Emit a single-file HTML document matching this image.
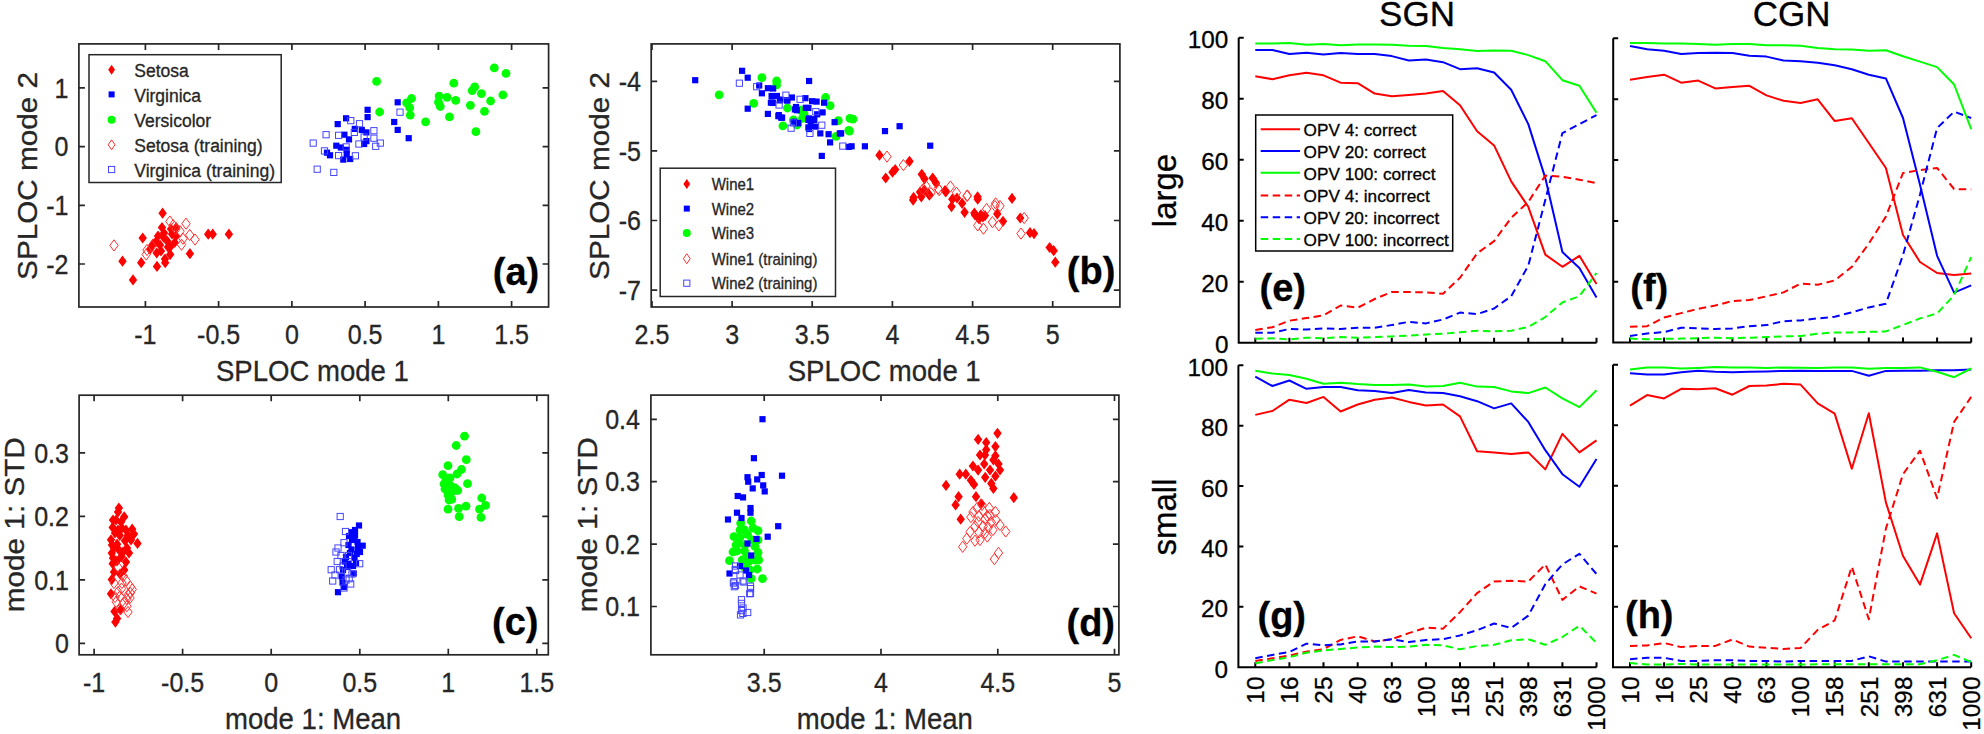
<!DOCTYPE html><html><head><meta charset="utf-8"><style>html,body{margin:0;padding:0;background:#fff;}svg{display:block;} text{font-family:'Liberation Sans', Arial, Helvetica, sans-serif;}</style></head><body>
<svg width="1984" height="734" viewBox="0 0 1984 734">
<rect width="1984" height="734" fill="#fff"/>
<rect x="78.9" y="43.9" width="469.7" height="263.1" fill="none" stroke="#262626" stroke-width="1.7"/>
<path d="M145.4,307v-6.0M145.4,43.9v6.0M218.6,307v-6.0M218.6,43.9v6.0M291.9,307v-6.0M291.9,43.9v6.0M365.1,307v-6.0M365.1,43.9v6.0M438.4,307v-6.0M438.4,43.9v6.0M511.6,307v-6.0M511.6,43.9v6.0M78.9,264h6.0M548.6,264h-6.0M78.9,205.3h6.0M548.6,205.3h-6.0M78.9,146.6h6.0M548.6,146.6h-6.0M78.9,87.9h6.0M548.6,87.9h-6.0" stroke="#262626" stroke-width="1.7" fill="none"/>
<text transform="translate(145.4,343.6) scale(0.963,1.04)" font-size="26" text-anchor="middle" fill="#262626" stroke="#262626" stroke-width="0.3" font-weight="normal" >-1</text>
<text transform="translate(218.6,343.6) scale(0.963,1.04)" font-size="26" text-anchor="middle" fill="#262626" stroke="#262626" stroke-width="0.3" font-weight="normal" >-0.5</text>
<text transform="translate(291.9,343.6) scale(0.963,1.04)" font-size="26" text-anchor="middle" fill="#262626" stroke="#262626" stroke-width="0.3" font-weight="normal" >0</text>
<text transform="translate(365.1,343.6) scale(0.963,1.04)" font-size="26" text-anchor="middle" fill="#262626" stroke="#262626" stroke-width="0.3" font-weight="normal" >0.5</text>
<text transform="translate(438.4,343.6) scale(0.963,1.04)" font-size="26" text-anchor="middle" fill="#262626" stroke="#262626" stroke-width="0.3" font-weight="normal" >1</text>
<text transform="translate(511.6,343.6) scale(0.963,1.04)" font-size="26" text-anchor="middle" fill="#262626" stroke="#262626" stroke-width="0.3" font-weight="normal" >1.5</text>
<text transform="translate(68.5,273.6) scale(0.963,1.04)" font-size="26" text-anchor="end" fill="#262626" stroke="#262626" stroke-width="0.3" font-weight="normal" >-2</text>
<text transform="translate(68.5,214.9) scale(0.963,1.04)" font-size="26" text-anchor="end" fill="#262626" stroke="#262626" stroke-width="0.3" font-weight="normal" >-1</text>
<text transform="translate(68.5,156.2) scale(0.963,1.04)" font-size="26" text-anchor="end" fill="#262626" stroke="#262626" stroke-width="0.3" font-weight="normal" >0</text>
<text transform="translate(68.5,97.5) scale(0.963,1.04)" font-size="26" text-anchor="end" fill="#262626" stroke="#262626" stroke-width="0.3" font-weight="normal" >1</text>
<text transform="translate(312.4,381.2) scale(0.967,1.03)" font-size="28.5" text-anchor="middle" fill="#262626" stroke="#262626" stroke-width="0.3" font-weight="normal" >SPLOC mode 1</text>
<text transform="translate(36.5,175.9) scale(0.97,1.043) rotate(-90)" font-size="28.5" text-anchor="middle" fill="#262626" stroke="#262626" stroke-width="0.3" dy="0.0">SPLOC mode 2</text>
<polygon points="162.6,207.6 166.8,213.2 162.6,218.8 158.4,213.2" fill="#ff0000"/>
<polygon points="142.7,232.4 146.9,238 142.7,243.6 138.5,238" fill="#ff0000"/>
<polygon points="122.5,255.6 126.7,261.2 122.5,266.8 118.3,261.2" fill="#ff0000"/>
<polygon points="133,274.3 137.2,279.9 133,285.5 128.8,279.9" fill="#ff0000"/>
<polygon points="141.2,257.1 145.4,262.7 141.2,268.3 137,262.7" fill="#ff0000"/>
<polygon points="157,260.8 161.2,266.4 157,272 152.8,266.4" fill="#ff0000"/>
<polygon points="165.2,257.1 169.4,262.7 165.2,268.3 161,262.7" fill="#ff0000"/>
<polygon points="189.9,248.1 194.1,253.7 189.9,259.3 185.7,253.7" fill="#ff0000"/>
<polygon points="208.2,228.6 212.4,234.2 208.2,239.8 204,234.2" fill="#ff0000"/>
<polygon points="212.7,228.6 216.9,234.2 212.7,239.8 208.5,234.2" fill="#ff0000"/>
<polygon points="228.9,228.6 233.1,234.2 228.9,239.8 224.7,234.2" fill="#ff0000"/>
<polygon points="162,221.9 166.2,227.5 162,233.1 157.8,227.5" fill="#ff0000"/>
<polygon points="163.5,231.6 167.7,237.2 163.5,242.8 159.3,237.2" fill="#ff0000"/>
<polygon points="156,236.1 160.2,241.7 156,247.3 151.8,241.7" fill="#ff0000"/>
<polygon points="167.2,235.4 171.4,241 167.2,246.6 163,241" fill="#ff0000"/>
<polygon points="174.7,236.9 178.9,242.5 174.7,248.1 170.5,242.5" fill="#ff0000"/>
<polygon points="176.2,221.9 180.4,227.5 176.2,233.1 172,227.5" fill="#ff0000"/>
<polygon points="150,243.6 154.2,249.2 150,254.8 145.8,249.2" fill="#ff0000"/>
<polygon points="156.7,247.4 160.9,253 156.7,258.6 152.5,253" fill="#ff0000"/>
<polygon points="170.2,248.9 174.4,254.5 170.2,260.1 166,254.5" fill="#ff0000"/>
<polygon points="170.2,241.4 174.4,247 170.2,252.6 166,247" fill="#ff0000"/>
<polygon points="165,253.4 169.2,259 165,264.6 160.8,259" fill="#ff0000"/>
<polygon points="160,239.4 164.2,245 160,250.6 155.8,245" fill="#ff0000"/>
<polygon points="172,228.4 176.2,234 172,239.6 167.8,234" fill="#ff0000"/>
<polygon points="158,230.4 162.2,236 158,241.6 153.8,236" fill="#ff0000"/>
<polygon points="164,227.4 168.2,233 164,238.6 159.8,233" fill="#ff0000"/>
<polygon points="168,241.4 172.2,247 168,252.6 163.8,247" fill="#ff0000"/>
<polygon points="153,238.4 157.2,244 153,249.6 148.8,244" fill="#ff0000"/>
<polygon points="161,245.4 165.2,251 161,256.6 156.8,251" fill="#ff0000"/>
<polygon points="176,230.4 180.2,236 176,241.6 171.8,236" fill="#ff0000"/>
<polygon points="171,223.4 175.2,229 171,234.6 166.8,229" fill="#ff0000"/>
<rect x="364.5" y="106.7" width="6.2" height="6.2" fill="#0000ff"/>
<rect x="364.5" y="114" width="6.2" height="6.2" fill="#0000ff"/>
<rect x="343" y="115.2" width="6.2" height="6.2" fill="#0000ff"/>
<rect x="334.6" y="121" width="6.2" height="6.2" fill="#0000ff"/>
<rect x="351.7" y="125.8" width="6.2" height="6.2" fill="#0000ff"/>
<rect x="358.7" y="126.8" width="6.2" height="6.2" fill="#0000ff"/>
<rect x="363.3" y="129.3" width="6.2" height="6.2" fill="#0000ff"/>
<rect x="341.3" y="131.6" width="6.2" height="6.2" fill="#0000ff"/>
<rect x="345.9" y="136.3" width="6.2" height="6.2" fill="#0000ff"/>
<rect x="363.3" y="138" width="6.2" height="6.2" fill="#0000ff"/>
<rect x="361" y="140.9" width="6.2" height="6.2" fill="#0000ff"/>
<rect x="333.2" y="142.6" width="6.2" height="6.2" fill="#0000ff"/>
<rect x="337.8" y="144.4" width="6.2" height="6.2" fill="#0000ff"/>
<rect x="343.6" y="146.7" width="6.2" height="6.2" fill="#0000ff"/>
<rect x="323.9" y="149.6" width="6.2" height="6.2" fill="#0000ff"/>
<rect x="326.9" y="152.2" width="6.2" height="6.2" fill="#0000ff"/>
<rect x="340.2" y="156.5" width="6.2" height="6.2" fill="#0000ff"/>
<rect x="347.1" y="155.9" width="6.2" height="6.2" fill="#0000ff"/>
<rect x="343.6" y="151.3" width="6.2" height="6.2" fill="#0000ff"/>
<rect x="391.1" y="118.9" width="6.2" height="6.2" fill="#0000ff"/>
<rect x="394.6" y="126.8" width="6.2" height="6.2" fill="#0000ff"/>
<rect x="405.6" y="135.1" width="6.2" height="6.2" fill="#0000ff"/>
<rect x="394.6" y="99.2" width="6.2" height="6.2" fill="#0000ff"/>
<circle cx="376.6" cy="81.4" r="4.4" fill="#00ff00"/>
<circle cx="379.6" cy="112" r="4.4" fill="#00ff00"/>
<circle cx="411.5" cy="98.5" r="4.4" fill="#00ff00"/>
<circle cx="406.6" cy="102.8" r="4.4" fill="#00ff00"/>
<circle cx="409.7" cy="107.7" r="4.4" fill="#00ff00"/>
<circle cx="410.3" cy="115.1" r="4.4" fill="#00ff00"/>
<circle cx="425.6" cy="121.8" r="4.4" fill="#00ff00"/>
<circle cx="439.1" cy="96.1" r="4.4" fill="#00ff00"/>
<circle cx="438.5" cy="102.2" r="4.4" fill="#00ff00"/>
<circle cx="440.3" cy="106.5" r="4.4" fill="#00ff00"/>
<circle cx="447.1" cy="97.3" r="4.4" fill="#00ff00"/>
<circle cx="455.7" cy="100.4" r="4.4" fill="#00ff00"/>
<circle cx="453.8" cy="83.2" r="4.4" fill="#00ff00"/>
<circle cx="449.5" cy="116.9" r="4.4" fill="#00ff00"/>
<circle cx="474.7" cy="86.9" r="4.4" fill="#00ff00"/>
<circle cx="472.2" cy="90.6" r="4.4" fill="#00ff00"/>
<circle cx="481.4" cy="93.6" r="4.4" fill="#00ff00"/>
<circle cx="470.4" cy="105.3" r="4.4" fill="#00ff00"/>
<circle cx="490.6" cy="101" r="4.4" fill="#00ff00"/>
<circle cx="484.5" cy="111.4" r="4.4" fill="#00ff00"/>
<circle cx="475.9" cy="131.7" r="4.4" fill="#00ff00"/>
<circle cx="494.3" cy="67.9" r="4.4" fill="#00ff00"/>
<circle cx="506" cy="73.4" r="4.4" fill="#00ff00"/>
<circle cx="502.9" cy="94.9" r="4.4" fill="#00ff00"/>
<polygon points="114,239.8 118.2,245.4 114,251 109.8,245.4" fill="none" stroke="#ff3030" stroke-width="1"/>
<polygon points="169.9,215.9 174.1,221.5 169.9,227.1 165.7,221.5" fill="none" stroke="#ff3030" stroke-width="1"/>
<polygon points="173.2,219.6 177.4,225.2 173.2,230.8 169,225.2" fill="none" stroke="#ff3030" stroke-width="1"/>
<polygon points="186,218.1 190.2,223.7 186,229.3 181.8,223.7" fill="none" stroke="#ff3030" stroke-width="1"/>
<polygon points="180,225.6 184.2,231.2 180,236.8 175.8,231.2" fill="none" stroke="#ff3030" stroke-width="1"/>
<polygon points="183,233.1 187.2,238.7 183,244.3 178.8,238.7" fill="none" stroke="#ff3030" stroke-width="1"/>
<polygon points="189.7,229.4 193.9,235 189.7,240.6 185.5,235" fill="none" stroke="#ff3030" stroke-width="1"/>
<polygon points="195,233.9 199.2,239.5 195,245.1 190.8,239.5" fill="none" stroke="#ff3030" stroke-width="1"/>
<polygon points="181.5,239.1 185.7,244.7 181.5,250.3 177.3,244.7" fill="none" stroke="#ff3030" stroke-width="1"/>
<polygon points="147,244.4 151.2,250 147,255.6 142.8,250" fill="none" stroke="#ff3030" stroke-width="1"/>
<polygon points="146.2,248.9 150.4,254.5 146.2,260.1 142,254.5" fill="none" stroke="#ff3030" stroke-width="1"/>
<polygon points="176,223.4 180.2,229 176,234.6 171.8,229" fill="none" stroke="#ff3030" stroke-width="1"/>
<polygon points="152,240.4 156.2,246 152,251.6 147.8,246" fill="none" stroke="#ff3030" stroke-width="1"/>
<rect x="310.1" y="140" width="6.2" height="6.2" fill="none" stroke="#4545ff" stroke-width="1"/>
<rect x="323" y="131.6" width="6.2" height="6.2" fill="none" stroke="#4545ff" stroke-width="1"/>
<rect x="347.7" y="117.5" width="6.2" height="6.2" fill="none" stroke="#4545ff" stroke-width="1"/>
<rect x="356.4" y="120.6" width="6.2" height="6.2" fill="none" stroke="#4545ff" stroke-width="1"/>
<rect x="335.5" y="132.2" width="6.2" height="6.2" fill="none" stroke="#4545ff" stroke-width="1"/>
<rect x="351.2" y="129.3" width="6.2" height="6.2" fill="none" stroke="#4545ff" stroke-width="1"/>
<rect x="370.8" y="127.6" width="6.2" height="6.2" fill="none" stroke="#4545ff" stroke-width="1"/>
<rect x="370.8" y="135.1" width="6.2" height="6.2" fill="none" stroke="#4545ff" stroke-width="1"/>
<rect x="377.2" y="140" width="6.2" height="6.2" fill="none" stroke="#4545ff" stroke-width="1"/>
<rect x="372.6" y="143.2" width="6.2" height="6.2" fill="none" stroke="#4545ff" stroke-width="1"/>
<rect x="355.8" y="140.9" width="6.2" height="6.2" fill="none" stroke="#4545ff" stroke-width="1"/>
<rect x="343" y="143.8" width="6.2" height="6.2" fill="none" stroke="#4545ff" stroke-width="1"/>
<rect x="321.4" y="147.8" width="6.2" height="6.2" fill="none" stroke="#4545ff" stroke-width="1"/>
<rect x="335.5" y="152.5" width="6.2" height="6.2" fill="none" stroke="#4545ff" stroke-width="1"/>
<rect x="352.3" y="152.7" width="6.2" height="6.2" fill="none" stroke="#4545ff" stroke-width="1"/>
<rect x="314.1" y="166.1" width="6.2" height="6.2" fill="none" stroke="#4545ff" stroke-width="1"/>
<rect x="330.7" y="169.3" width="6.2" height="6.2" fill="none" stroke="#4545ff" stroke-width="1"/>
<rect x="396.9" y="109.1" width="6.2" height="6.2" fill="none" stroke="#4545ff" stroke-width="1"/>
<rect x="361" y="133.9" width="6.2" height="6.2" fill="none" stroke="#4545ff" stroke-width="1"/>
<rect x="89" y="54.7" width="192.2" height="127.8" fill="#fff" stroke="#262626" stroke-width="1.5"/>
<polygon points="111.6,64.7 115,69.7 111.6,74.7 108.2,69.7" fill="#ff0000"/>
<rect x="108.6" y="91.4" width="6" height="6" fill="#0000ff"/>
<circle cx="111.6" cy="119.7" r="4" fill="#00ff00"/>
<polygon points="111.6,139.8 115,144.8 111.6,149.8 108.2,144.8" fill="none" stroke="#ff3030" stroke-width="1"/>
<rect x="108.5" y="166.4" width="6.2" height="6.2" fill="none" stroke="#4545ff" stroke-width="1"/>
<text transform="translate(134.3,77) scale(1.0,1.05)" font-size="17.5" text-anchor="start" fill="#262626" stroke="#262626" stroke-width="0.3" font-weight="normal" >Setosa</text>
<text transform="translate(134.3,101.7) scale(1.0,1.05)" font-size="17.5" text-anchor="start" fill="#262626" stroke="#262626" stroke-width="0.3" font-weight="normal" >Virginica</text>
<text transform="translate(134.3,127) scale(1.0,1.05)" font-size="17.5" text-anchor="start" fill="#262626" stroke="#262626" stroke-width="0.3" font-weight="normal" >Versicolor</text>
<text transform="translate(134.3,152.1) scale(1.0,1.05)" font-size="17.5" text-anchor="start" fill="#262626" stroke="#262626" stroke-width="0.3" font-weight="normal" >Setosa (training)</text>
<text transform="translate(134.3,176.8) scale(1.0,1.05)" font-size="17.5" text-anchor="start" fill="#262626" stroke="#262626" stroke-width="0.3" font-weight="normal" >Virginica (training)</text>
<text x="492.8" y="285" font-size="38" text-anchor="start" fill="#000" stroke="#000" stroke-width="0.3" font-weight="bold" >(a)</text>
<rect x="651.2" y="43.9" width="468.7" height="263.1" fill="none" stroke="#262626" stroke-width="1.7"/>
<path d="M652,307v-6.0M652,43.9v6.0M732.1,307v-6.0M732.1,43.9v6.0M812.2,307v-6.0M812.2,43.9v6.0M892.4,307v-6.0M892.4,43.9v6.0M972.6,307v-6.0M972.6,43.9v6.0M1052.7,307v-6.0M1052.7,43.9v6.0M651.2,290.1h6.0M1119.9,290.1h-6.0M651.2,220.5h6.0M1119.9,220.5h-6.0M651.2,150.9h6.0M1119.9,150.9h-6.0M651.2,81.3h6.0M1119.9,81.3h-6.0" stroke="#262626" stroke-width="1.7" fill="none"/>
<text transform="translate(652,343.6) scale(0.963,1.04)" font-size="26" text-anchor="middle" fill="#262626" stroke="#262626" stroke-width="0.3" font-weight="normal" >2.5</text>
<text transform="translate(732.1,343.6) scale(0.963,1.04)" font-size="26" text-anchor="middle" fill="#262626" stroke="#262626" stroke-width="0.3" font-weight="normal" >3</text>
<text transform="translate(812.2,343.6) scale(0.963,1.04)" font-size="26" text-anchor="middle" fill="#262626" stroke="#262626" stroke-width="0.3" font-weight="normal" >3.5</text>
<text transform="translate(892.4,343.6) scale(0.963,1.04)" font-size="26" text-anchor="middle" fill="#262626" stroke="#262626" stroke-width="0.3" font-weight="normal" >4</text>
<text transform="translate(972.6,343.6) scale(0.963,1.04)" font-size="26" text-anchor="middle" fill="#262626" stroke="#262626" stroke-width="0.3" font-weight="normal" >4.5</text>
<text transform="translate(1052.7,343.6) scale(0.963,1.04)" font-size="26" text-anchor="middle" fill="#262626" stroke="#262626" stroke-width="0.3" font-weight="normal" >5</text>
<text transform="translate(641,299.7) scale(0.963,1.04)" font-size="26" text-anchor="end" fill="#262626" stroke="#262626" stroke-width="0.3" font-weight="normal" >-7</text>
<text transform="translate(641,230.1) scale(0.963,1.04)" font-size="26" text-anchor="end" fill="#262626" stroke="#262626" stroke-width="0.3" font-weight="normal" >-6</text>
<text transform="translate(641,160.5) scale(0.963,1.04)" font-size="26" text-anchor="end" fill="#262626" stroke="#262626" stroke-width="0.3" font-weight="normal" >-5</text>
<text transform="translate(641,90.9) scale(0.963,1.04)" font-size="26" text-anchor="end" fill="#262626" stroke="#262626" stroke-width="0.3" font-weight="normal" >-4</text>
<text transform="translate(884.2,381.2) scale(0.967,1.03)" font-size="28.5" text-anchor="middle" fill="#262626" stroke="#262626" stroke-width="0.3" font-weight="normal" >SPLOC mode 1</text>
<text transform="translate(608.7,175.9) scale(0.97,1.043) rotate(-90)" font-size="28.5" text-anchor="middle" fill="#262626" stroke="#262626" stroke-width="0.3" dy="0.0">SPLOC mode 2</text>
<polygon points="879.5,149.6 883.7,155.2 879.5,160.8 875.3,155.2" fill="#ff0000"/>
<polygon points="885.7,172.4 889.9,178 885.7,183.6 881.5,178" fill="#ff0000"/>
<polygon points="892.5,166.6 896.7,172.2 892.5,177.8 888.3,172.2" fill="#ff0000"/>
<polygon points="895.2,163.9 899.4,169.5 895.2,175.1 891,169.5" fill="#ff0000"/>
<polygon points="909.5,155.7 913.7,161.3 909.5,166.9 905.3,161.3" fill="#ff0000"/>
<polygon points="921.8,168.7 926,174.3 921.8,179.9 917.6,174.3" fill="#ff0000"/>
<polygon points="924.5,173.2 928.7,178.8 924.5,184.4 920.3,178.8" fill="#ff0000"/>
<polygon points="932.7,172.4 936.9,178 932.7,183.6 928.5,178" fill="#ff0000"/>
<polygon points="936,177.3 940.2,182.9 936,188.5 931.8,182.9" fill="#ff0000"/>
<polygon points="913.1,194.5 917.3,200.1 913.1,205.7 908.9,200.1" fill="#ff0000"/>
<polygon points="921.3,191.2 925.5,196.8 921.3,202.4 917.1,196.8" fill="#ff0000"/>
<polygon points="929.4,189.5 933.6,195.1 929.4,200.7 925.2,195.1" fill="#ff0000"/>
<polygon points="924.5,184.4 928.7,190 924.5,195.6 920.3,190" fill="#ff0000"/>
<polygon points="928.6,188.4 932.8,194 928.6,199.6 924.4,194" fill="#ff0000"/>
<polygon points="945,185 949.2,190.6 945,196.2 940.8,190.6" fill="#ff0000"/>
<polygon points="945.8,186.3 950,191.9 945.8,197.5 941.6,191.9" fill="#ff0000"/>
<polygon points="952.3,193.6 956.5,199.2 952.3,204.8 948.1,199.2" fill="#ff0000"/>
<polygon points="951.5,201 955.7,206.6 951.5,212.2 947.3,206.6" fill="#ff0000"/>
<polygon points="962.1,197.7 966.3,203.3 962.1,208.9 957.9,203.3" fill="#ff0000"/>
<polygon points="964.6,206.7 968.8,212.3 964.6,217.9 960.4,212.3" fill="#ff0000"/>
<polygon points="977.7,193.6 981.9,199.2 977.7,204.8 973.5,199.2" fill="#ff0000"/>
<polygon points="977.6,191.2 981.8,196.8 977.6,202.4 973.4,196.8" fill="#ff0000"/>
<polygon points="974.4,207.5 978.6,213.1 974.4,218.7 970.2,213.1" fill="#ff0000"/>
<polygon points="980.9,209.2 985.1,214.8 980.9,220.4 976.7,214.8" fill="#ff0000"/>
<polygon points="985,210 989.2,215.6 985,221.2 980.8,215.6" fill="#ff0000"/>
<polygon points="997.3,208.3 1001.5,213.9 997.3,219.5 993.1,213.9" fill="#ff0000"/>
<polygon points="1003,215.7 1007.2,221.3 1003,226.9 998.8,221.3" fill="#ff0000"/>
<polygon points="1012,192.8 1016.2,198.4 1012,204 1007.8,198.4" fill="#ff0000"/>
<polygon points="1020.2,212.4 1024.4,218 1020.2,223.6 1016,218" fill="#ff0000"/>
<polygon points="1030,227.1 1034.2,232.7 1030,238.3 1025.8,232.7" fill="#ff0000"/>
<polygon points="1034,228 1038.2,233.6 1034,239.2 1029.8,233.6" fill="#ff0000"/>
<polygon points="1049.6,241.9 1053.8,247.5 1049.6,253.1 1045.4,247.5" fill="#ff0000"/>
<polygon points="1053.7,245.1 1057.9,250.7 1053.7,256.3 1049.5,250.7" fill="#ff0000"/>
<polygon points="1055.3,256.6 1059.5,262.2 1055.3,267.8 1051.1,262.2" fill="#ff0000"/>
<polygon points="913.6,191.8 917.8,197.4 913.6,203 909.4,197.4" fill="#ff0000"/>
<polygon points="975,209.4 979.2,215 975,220.6 970.8,215" fill="#ff0000"/>
<polygon points="979,213.4 983.2,219 979,224.6 974.8,219" fill="#ff0000"/>
<polygon points="983,211.4 987.2,217 983,222.6 978.8,217" fill="#ff0000"/>
<polygon points="920,186.4 924.2,192 920,197.6 915.8,192" fill="#ff0000"/>
<polygon points="957,192.4 961.2,198 957,203.6 952.8,198" fill="#ff0000"/>
<circle cx="719.2" cy="94.8" r="4.4" fill="#00ff00"/>
<circle cx="761.9" cy="77.7" r="4.4" fill="#00ff00"/>
<circle cx="776.6" cy="81" r="4.4" fill="#00ff00"/>
<circle cx="776.6" cy="85" r="4.4" fill="#00ff00"/>
<circle cx="753.7" cy="103.4" r="4.4" fill="#00ff00"/>
<circle cx="825.6" cy="97.5" r="4.4" fill="#00ff00"/>
<circle cx="830.1" cy="105.7" r="4.4" fill="#00ff00"/>
<circle cx="787.4" cy="108" r="4.4" fill="#00ff00"/>
<circle cx="782.9" cy="125.9" r="4.4" fill="#00ff00"/>
<circle cx="793.4" cy="119.9" r="4.4" fill="#00ff00"/>
<circle cx="803.9" cy="116.9" r="4.4" fill="#00ff00"/>
<circle cx="838.3" cy="120.7" r="4.4" fill="#00ff00"/>
<circle cx="836.1" cy="136.4" r="4.4" fill="#00ff00"/>
<circle cx="848.8" cy="130.4" r="4.4" fill="#00ff00"/>
<circle cx="850" cy="118.4" r="4.4" fill="#00ff00"/>
<circle cx="853" cy="119.1" r="4.4" fill="#00ff00"/>
<circle cx="849.5" cy="131.1" r="4.4" fill="#00ff00"/>
<circle cx="800" cy="110" r="4.4" fill="#00ff00"/>
<circle cx="797" cy="125" r="4.4" fill="#00ff00"/>
<circle cx="802.5" cy="118.4" r="4.4" fill="#00ff00"/>
<circle cx="804.1" cy="114.3" r="4.4" fill="#00ff00"/>
<rect x="692.1" y="77.1" width="6.2" height="6.2" fill="#0000ff"/>
<rect x="739" y="67.7" width="6.2" height="6.2" fill="#0000ff"/>
<rect x="744.6" y="74.6" width="6.2" height="6.2" fill="#0000ff"/>
<rect x="756.1" y="82.4" width="6.2" height="6.2" fill="#0000ff"/>
<rect x="758.8" y="90.2" width="6.2" height="6.2" fill="#0000ff"/>
<rect x="744.6" y="105.6" width="6.2" height="6.2" fill="#0000ff"/>
<rect x="764.8" y="85.1" width="6.2" height="6.2" fill="#0000ff"/>
<rect x="770" y="85.4" width="6.2" height="6.2" fill="#0000ff"/>
<rect x="768.5" y="92.9" width="6.2" height="6.2" fill="#0000ff"/>
<rect x="773.8" y="92.9" width="6.2" height="6.2" fill="#0000ff"/>
<rect x="767.8" y="99.6" width="6.2" height="6.2" fill="#0000ff"/>
<rect x="776.8" y="97.3" width="6.2" height="6.2" fill="#0000ff"/>
<rect x="764.8" y="110.8" width="6.2" height="6.2" fill="#0000ff"/>
<rect x="775.3" y="113.1" width="6.2" height="6.2" fill="#0000ff"/>
<rect x="779" y="114.6" width="6.2" height="6.2" fill="#0000ff"/>
<rect x="784.3" y="97.3" width="6.2" height="6.2" fill="#0000ff"/>
<rect x="788.8" y="94.4" width="6.2" height="6.2" fill="#0000ff"/>
<rect x="791.8" y="106.3" width="6.2" height="6.2" fill="#0000ff"/>
<rect x="794.8" y="119.8" width="6.2" height="6.2" fill="#0000ff"/>
<rect x="802.3" y="95.1" width="6.2" height="6.2" fill="#0000ff"/>
<rect x="805.3" y="104.9" width="6.2" height="6.2" fill="#0000ff"/>
<rect x="809" y="98.1" width="6.2" height="6.2" fill="#0000ff"/>
<rect x="813.5" y="98.5" width="6.2" height="6.2" fill="#0000ff"/>
<rect x="806" y="77.9" width="6.2" height="6.2" fill="#0000ff"/>
<rect x="821" y="99.6" width="6.2" height="6.2" fill="#0000ff"/>
<rect x="819.5" y="109.3" width="6.2" height="6.2" fill="#0000ff"/>
<rect x="805.3" y="116.8" width="6.2" height="6.2" fill="#0000ff"/>
<rect x="811.2" y="116.8" width="6.2" height="6.2" fill="#0000ff"/>
<rect x="805.3" y="124.3" width="6.2" height="6.2" fill="#0000ff"/>
<rect x="817.2" y="130.3" width="6.2" height="6.2" fill="#0000ff"/>
<rect x="825.5" y="131.1" width="6.2" height="6.2" fill="#0000ff"/>
<rect x="827" y="139.3" width="6.2" height="6.2" fill="#0000ff"/>
<rect x="831.5" y="119.1" width="6.2" height="6.2" fill="#0000ff"/>
<rect x="836.7" y="130.3" width="6.2" height="6.2" fill="#0000ff"/>
<rect x="818.7" y="152.8" width="6.2" height="6.2" fill="#0000ff"/>
<rect x="845.7" y="143.8" width="6.2" height="6.2" fill="#0000ff"/>
<rect x="838" y="130.3" width="6.2" height="6.2" fill="#0000ff"/>
<rect x="848.5" y="143.2" width="6.2" height="6.2" fill="#0000ff"/>
<rect x="861.8" y="143.2" width="6.2" height="6.2" fill="#0000ff"/>
<rect x="881.9" y="128" width="6.2" height="6.2" fill="#0000ff"/>
<rect x="896.5" y="123.1" width="6.2" height="6.2" fill="#0000ff"/>
<rect x="927.1" y="142.6" width="6.2" height="6.2" fill="#0000ff"/>
<rect x="793.7" y="107.1" width="6.2" height="6.2" fill="#0000ff"/>
<rect x="792.9" y="103.9" width="6.2" height="6.2" fill="#0000ff"/>
<rect x="802.7" y="104.7" width="6.2" height="6.2" fill="#0000ff"/>
<rect x="805.9" y="115.3" width="6.2" height="6.2" fill="#0000ff"/>
<rect x="810.8" y="116.1" width="6.2" height="6.2" fill="#0000ff"/>
<rect x="807.6" y="122.7" width="6.2" height="6.2" fill="#0000ff"/>
<rect x="812.5" y="123.5" width="6.2" height="6.2" fill="#0000ff"/>
<rect x="805.9" y="125.9" width="6.2" height="6.2" fill="#0000ff"/>
<rect x="775.7" y="112" width="6.2" height="6.2" fill="#0000ff"/>
<rect x="778.1" y="114.5" width="6.2" height="6.2" fill="#0000ff"/>
<rect x="769.2" y="93.2" width="6.2" height="6.2" fill="#0000ff"/>
<rect x="769.9" y="99.8" width="6.2" height="6.2" fill="#0000ff"/>
<rect x="777.3" y="96.5" width="6.2" height="6.2" fill="#0000ff"/>
<rect x="783.9" y="97.3" width="6.2" height="6.2" fill="#0000ff"/>
<rect x="795.3" y="120.2" width="6.2" height="6.2" fill="#0000ff"/>
<rect x="791.2" y="118.6" width="6.2" height="6.2" fill="#0000ff"/>
<rect x="814.1" y="111.2" width="6.2" height="6.2" fill="#0000ff"/>
<polygon points="887,151 891.2,156.6 887,162.2 882.8,156.6" fill="none" stroke="#ff3030" stroke-width="1"/>
<polygon points="903.4,159.5 907.6,165.1 903.4,170.7 899.2,165.1" fill="none" stroke="#ff3030" stroke-width="1"/>
<polygon points="950.4,180.9 954.6,186.5 950.4,192.1 946.2,186.5" fill="none" stroke="#ff3030" stroke-width="1"/>
<polygon points="956.5,187.1 960.7,192.7 956.5,198.3 952.3,192.7" fill="none" stroke="#ff3030" stroke-width="1"/>
<polygon points="967.4,189.8 971.6,195.4 967.4,201 963.2,195.4" fill="none" stroke="#ff3030" stroke-width="1"/>
<polygon points="938.1,183 942.3,188.6 938.1,194.2 933.9,188.6" fill="none" stroke="#ff3030" stroke-width="1"/>
<polygon points="922.9,183.8 927.1,189.4 922.9,195 918.7,189.4" fill="none" stroke="#ff3030" stroke-width="1"/>
<polygon points="939.2,184.6 943.4,190.2 939.2,195.8 935,190.2" fill="none" stroke="#ff3030" stroke-width="1"/>
<polygon points="967,190.4 971.2,196 967,201.6 962.8,196" fill="none" stroke="#ff3030" stroke-width="1"/>
<polygon points="986.6,203.4 990.8,209 986.6,214.6 982.4,209" fill="none" stroke="#ff3030" stroke-width="1"/>
<polygon points="995.6,197.7 999.8,203.3 995.6,208.9 991.4,203.3" fill="none" stroke="#ff3030" stroke-width="1"/>
<polygon points="992.4,216.5 996.6,222.1 992.4,227.7 988.2,222.1" fill="none" stroke="#ff3030" stroke-width="1"/>
<polygon points="977.7,219.8 981.9,225.4 977.7,231 973.5,225.4" fill="none" stroke="#ff3030" stroke-width="1"/>
<polygon points="983.4,223.1 987.6,228.7 983.4,234.3 979.2,228.7" fill="none" stroke="#ff3030" stroke-width="1"/>
<polygon points="998.9,219.8 1003.1,225.4 998.9,231 994.7,225.4" fill="none" stroke="#ff3030" stroke-width="1"/>
<polygon points="1024.2,212.4 1028.4,218 1024.2,223.6 1020,218" fill="none" stroke="#ff3030" stroke-width="1"/>
<polygon points="1021,228 1025.2,233.6 1021,239.2 1016.8,233.6" fill="none" stroke="#ff3030" stroke-width="1"/>
<polygon points="995,200.4 999.2,206 995,211.6 990.8,206" fill="none" stroke="#ff3030" stroke-width="1"/>
<polygon points="926,180.4 930.2,186 926,191.6 921.8,186" fill="none" stroke="#ff3030" stroke-width="1"/>
<polygon points="931,187.4 935.2,193 931,198.6 926.8,193" fill="none" stroke="#ff3030" stroke-width="1"/>
<polygon points="1000,200.4 1004.2,206 1000,211.6 995.8,206" fill="none" stroke="#ff3030" stroke-width="1"/>
<rect x="736.3" y="80.1" width="6.2" height="6.2" fill="none" stroke="#4545ff" stroke-width="1"/>
<rect x="753.6" y="83.6" width="6.2" height="6.2" fill="none" stroke="#4545ff" stroke-width="1"/>
<rect x="782.8" y="92.1" width="6.2" height="6.2" fill="none" stroke="#4545ff" stroke-width="1"/>
<rect x="776" y="101.9" width="6.2" height="6.2" fill="none" stroke="#4545ff" stroke-width="1"/>
<rect x="797" y="96.2" width="6.2" height="6.2" fill="none" stroke="#4545ff" stroke-width="1"/>
<rect x="812.7" y="108.6" width="6.2" height="6.2" fill="none" stroke="#4545ff" stroke-width="1"/>
<rect x="818.7" y="122.1" width="6.2" height="6.2" fill="none" stroke="#4545ff" stroke-width="1"/>
<rect x="788" y="125.1" width="6.2" height="6.2" fill="none" stroke="#4545ff" stroke-width="1"/>
<rect x="806.8" y="130.3" width="6.2" height="6.2" fill="none" stroke="#4545ff" stroke-width="1"/>
<rect x="839.7" y="143" width="6.2" height="6.2" fill="none" stroke="#4545ff" stroke-width="1"/>
<rect x="790.3" y="119.8" width="6.2" height="6.2" fill="none" stroke="#4545ff" stroke-width="1"/>
<rect x="660.2" y="168.2" width="175.3" height="128.3" fill="#fff" stroke="#262626" stroke-width="1.5"/>
<polygon points="686.8,179.1 690.2,184.1 686.8,189.1 683.4,184.1" fill="#ff0000"/>
<rect x="683.8" y="205.6" width="6" height="6" fill="#0000ff"/>
<circle cx="686.8" cy="233.1" r="4" fill="#00ff00"/>
<polygon points="686.8,253.7 690.2,258.7 686.8,263.7 683.4,258.7" fill="none" stroke="#ff3030" stroke-width="1"/>
<rect x="683.7" y="280.1" width="6.2" height="6.2" fill="none" stroke="#4545ff" stroke-width="1"/>
<text transform="translate(711.7,190.3) scale(1.0,1.05)" font-size="15" text-anchor="start" fill="#262626" stroke="#262626" stroke-width="0.3" font-weight="normal" >Wine1</text>
<text transform="translate(711.7,214.8) scale(1.0,1.05)" font-size="15" text-anchor="start" fill="#262626" stroke="#262626" stroke-width="0.3" font-weight="normal" >Wine2</text>
<text transform="translate(711.7,239.3) scale(1.0,1.05)" font-size="15" text-anchor="start" fill="#262626" stroke="#262626" stroke-width="0.3" font-weight="normal" >Wine3</text>
<text transform="translate(711.7,264.9) scale(1.0,1.05)" font-size="15" text-anchor="start" fill="#262626" stroke="#262626" stroke-width="0.3" font-weight="normal" >Wine1 (training)</text>
<text transform="translate(711.7,289.4) scale(1.0,1.05)" font-size="15" text-anchor="start" fill="#262626" stroke="#262626" stroke-width="0.3" font-weight="normal" >Wine2 (training)</text>
<text x="1066.8" y="284.3" font-size="38" text-anchor="start" fill="#000" stroke="#000" stroke-width="0.3" font-weight="bold" >(b)</text>
<rect x="79.1" y="395.2" width="469.2" height="259.6" fill="none" stroke="#262626" stroke-width="1.7"/>
<path d="M94.1,654.8v-6.0M94.1,395.2v6.0M182.6,654.8v-6.0M182.6,395.2v6.0M271.2,654.8v-6.0M271.2,395.2v6.0M359.8,654.8v-6.0M359.8,395.2v6.0M448.3,654.8v-6.0M448.3,395.2v6.0M536.8,654.8v-6.0M536.8,395.2v6.0M79.1,643.4h6.0M548.3,643.4h-6.0M79.1,579.9h6.0M548.3,579.9h-6.0M79.1,516.4h6.0M548.3,516.4h-6.0M79.1,452.9h6.0M548.3,452.9h-6.0" stroke="#262626" stroke-width="1.7" fill="none"/>
<text transform="translate(94.1,692) scale(0.963,1.04)" font-size="26" text-anchor="middle" fill="#262626" stroke="#262626" stroke-width="0.3" font-weight="normal" >-1</text>
<text transform="translate(182.6,692) scale(0.963,1.04)" font-size="26" text-anchor="middle" fill="#262626" stroke="#262626" stroke-width="0.3" font-weight="normal" >-0.5</text>
<text transform="translate(271.2,692) scale(0.963,1.04)" font-size="26" text-anchor="middle" fill="#262626" stroke="#262626" stroke-width="0.3" font-weight="normal" >0</text>
<text transform="translate(359.8,692) scale(0.963,1.04)" font-size="26" text-anchor="middle" fill="#262626" stroke="#262626" stroke-width="0.3" font-weight="normal" >0.5</text>
<text transform="translate(448.3,692) scale(0.963,1.04)" font-size="26" text-anchor="middle" fill="#262626" stroke="#262626" stroke-width="0.3" font-weight="normal" >1</text>
<text transform="translate(536.8,692) scale(0.963,1.04)" font-size="26" text-anchor="middle" fill="#262626" stroke="#262626" stroke-width="0.3" font-weight="normal" >1.5</text>
<text transform="translate(69,653) scale(0.963,1.04)" font-size="26" text-anchor="end" fill="#262626" stroke="#262626" stroke-width="0.3" font-weight="normal" >0</text>
<text transform="translate(69,589.5) scale(0.963,1.04)" font-size="26" text-anchor="end" fill="#262626" stroke="#262626" stroke-width="0.3" font-weight="normal" >0.1</text>
<text transform="translate(69,526) scale(0.963,1.04)" font-size="26" text-anchor="end" fill="#262626" stroke="#262626" stroke-width="0.3" font-weight="normal" >0.2</text>
<text transform="translate(69,462.5) scale(0.963,1.04)" font-size="26" text-anchor="end" fill="#262626" stroke="#262626" stroke-width="0.3" font-weight="normal" >0.3</text>
<text transform="translate(313.1,729.3) scale(0.967,1.03)" font-size="28.5" text-anchor="middle" fill="#262626" stroke="#262626" stroke-width="0.3" font-weight="normal" >mode 1: Mean</text>
<text transform="translate(24,524.7) scale(0.97,1.043) rotate(-90)" font-size="28.5" text-anchor="middle" fill="#262626" stroke="#262626" stroke-width="0.3" dy="0.0">mode 1: STD</text>
<polygon points="118.9,502.4 123.1,508 118.9,513.6 114.7,508" fill="#ff0000"/>
<polygon points="124.2,511.2 128.4,516.8 124.2,522.4 120,516.8" fill="#ff0000"/>
<polygon points="112.7,521.8 116.9,527.4 112.7,533 108.5,527.4" fill="#ff0000"/>
<polygon points="132.2,523.6 136.4,529.2 132.2,534.8 128,529.2" fill="#ff0000"/>
<polygon points="119.8,529.8 124,535.4 119.8,541 115.6,535.4" fill="#ff0000"/>
<polygon points="111,534.2 115.2,539.8 111,545.4 106.8,539.8" fill="#ff0000"/>
<polygon points="137.5,537.8 141.7,543.4 137.5,549 133.3,543.4" fill="#ff0000"/>
<polygon points="117.1,538.6 121.3,544.2 117.1,549.8 112.9,544.2" fill="#ff0000"/>
<polygon points="125,535.1 129.2,540.7 125,546.3 120.8,540.7" fill="#ff0000"/>
<polygon points="111.8,547.5 116,553.1 111.8,558.7 107.6,553.1" fill="#ff0000"/>
<polygon points="121.5,551 125.7,556.6 121.5,562.2 117.3,556.6" fill="#ff0000"/>
<polygon points="112.7,558.1 116.9,563.7 112.7,569.3 108.5,563.7" fill="#ff0000"/>
<polygon points="126,556.4 130.2,562 126,567.6 121.8,562" fill="#ff0000"/>
<polygon points="124.2,564.3 128.4,569.9 124.2,575.5 120,569.9" fill="#ff0000"/>
<polygon points="111.8,574 116,579.6 111.8,585.2 107.6,579.6" fill="#ff0000"/>
<polygon points="111,588.2 115.2,593.8 111,599.4 106.8,593.8" fill="#ff0000"/>
<polygon points="114.5,605.9 118.7,611.5 114.5,617.1 110.3,611.5" fill="#ff0000"/>
<polygon points="117.1,613 121.3,618.6 117.1,624.2 112.9,618.6" fill="#ff0000"/>
<polygon points="120.7,604.1 124.9,609.7 120.7,615.3 116.5,609.7" fill="#ff0000"/>
<polygon points="115.4,616.5 119.6,622.1 115.4,627.7 111.2,622.1" fill="#ff0000"/>
<polygon points="116,514.4 120.2,520 116,525.6 111.8,520" fill="#ff0000"/>
<polygon points="128,529.4 132.2,535 128,540.6 123.8,535" fill="#ff0000"/>
<polygon points="114,542.4 118.2,548 114,553.6 109.8,548" fill="#ff0000"/>
<polygon points="118,524.4 122.2,530 118,535.6 113.8,530" fill="#ff0000"/>
<polygon points="113,514.4 117.2,520 113,525.6 108.8,520" fill="#ff0000"/>
<polygon points="121,516.4 125.2,522 121,527.6 116.8,522" fill="#ff0000"/>
<polygon points="115,527.4 119.2,533 115,538.6 110.8,533" fill="#ff0000"/>
<polygon points="122,522.4 126.2,528 122,533.6 117.8,528" fill="#ff0000"/>
<polygon points="127,542.4 131.2,548 127,553.6 122.8,548" fill="#ff0000"/>
<polygon points="119,544.4 123.2,550 119,555.6 114.8,550" fill="#ff0000"/>
<polygon points="113,552.4 117.2,558 113,563.6 108.8,558" fill="#ff0000"/>
<polygon points="117,555.4 121.2,561 117,566.6 112.8,561" fill="#ff0000"/>
<polygon points="123,546.4 127.2,552 123,557.6 118.8,552" fill="#ff0000"/>
<polygon points="129,547.4 133.2,553 129,558.6 124.8,553" fill="#ff0000"/>
<polygon points="114,566.4 118.2,572 114,577.6 109.8,572" fill="#ff0000"/>
<polygon points="120,568.4 124.2,574 120,579.6 115.8,574" fill="#ff0000"/>
<polygon points="112,539.4 116.2,545 112,550.6 107.8,545" fill="#ff0000"/>
<polygon points="131,534.4 135.2,540 131,545.6 126.8,540" fill="#ff0000"/>
<polygon points="134,528.4 138.2,534 134,539.6 129.8,534" fill="#ff0000"/>
<polygon points="118,506.4 122.2,512 118,517.6 113.8,512" fill="#ff0000"/>
<polygon points="126,524.4 130.2,530 126,535.6 121.8,530" fill="#ff0000"/>
<rect x="355.9" y="522.4" width="6.2" height="6.2" fill="#0000ff"/>
<rect x="348.4" y="529.1" width="6.2" height="6.2" fill="#0000ff"/>
<rect x="351.4" y="534.4" width="6.2" height="6.2" fill="#0000ff"/>
<rect x="354.4" y="538.9" width="6.2" height="6.2" fill="#0000ff"/>
<rect x="359.6" y="542.6" width="6.2" height="6.2" fill="#0000ff"/>
<rect x="345.4" y="541.9" width="6.2" height="6.2" fill="#0000ff"/>
<rect x="348.4" y="546.4" width="6.2" height="6.2" fill="#0000ff"/>
<rect x="353.6" y="550.9" width="6.2" height="6.2" fill="#0000ff"/>
<rect x="351.4" y="554.6" width="6.2" height="6.2" fill="#0000ff"/>
<rect x="341.6" y="558.4" width="6.2" height="6.2" fill="#0000ff"/>
<rect x="345.4" y="560.6" width="6.2" height="6.2" fill="#0000ff"/>
<rect x="350.6" y="570.4" width="6.2" height="6.2" fill="#0000ff"/>
<rect x="338.6" y="573.4" width="6.2" height="6.2" fill="#0000ff"/>
<rect x="339.4" y="579.4" width="6.2" height="6.2" fill="#0000ff"/>
<rect x="340.9" y="583.9" width="6.2" height="6.2" fill="#0000ff"/>
<rect x="334.9" y="589.1" width="6.2" height="6.2" fill="#0000ff"/>
<rect x="351.9" y="526.9" width="6.2" height="6.2" fill="#0000ff"/>
<rect x="348.9" y="536.9" width="6.2" height="6.2" fill="#0000ff"/>
<rect x="351.9" y="531.9" width="6.2" height="6.2" fill="#0000ff"/>
<rect x="354.9" y="544.9" width="6.2" height="6.2" fill="#0000ff"/>
<rect x="346.9" y="549.9" width="6.2" height="6.2" fill="#0000ff"/>
<rect x="342.9" y="553.9" width="6.2" height="6.2" fill="#0000ff"/>
<rect x="349.9" y="562.9" width="6.2" height="6.2" fill="#0000ff"/>
<rect x="356.9" y="548.9" width="6.2" height="6.2" fill="#0000ff"/>
<rect x="343.9" y="563.9" width="6.2" height="6.2" fill="#0000ff"/>
<rect x="352.9" y="559.9" width="6.2" height="6.2" fill="#0000ff"/>
<rect x="339.9" y="566.9" width="6.2" height="6.2" fill="#0000ff"/>
<rect x="345.9" y="532.9" width="6.2" height="6.2" fill="#0000ff"/>
<circle cx="464.5" cy="436.2" r="4.4" fill="#00ff00"/>
<circle cx="456.2" cy="445.5" r="4.4" fill="#00ff00"/>
<circle cx="466.3" cy="459.7" r="4.4" fill="#00ff00"/>
<circle cx="448" cy="465.7" r="4.4" fill="#00ff00"/>
<circle cx="461.5" cy="469.5" r="4.4" fill="#00ff00"/>
<circle cx="457" cy="474" r="4.4" fill="#00ff00"/>
<circle cx="442.7" cy="474.7" r="4.4" fill="#00ff00"/>
<circle cx="467.5" cy="483.7" r="4.4" fill="#00ff00"/>
<circle cx="446.5" cy="483" r="4.4" fill="#00ff00"/>
<circle cx="451" cy="486" r="4.4" fill="#00ff00"/>
<circle cx="445" cy="489" r="4.4" fill="#00ff00"/>
<circle cx="457.7" cy="490.5" r="4.4" fill="#00ff00"/>
<circle cx="448" cy="495" r="4.4" fill="#00ff00"/>
<circle cx="451.7" cy="499.4" r="4.4" fill="#00ff00"/>
<circle cx="481.7" cy="498" r="4.4" fill="#00ff00"/>
<circle cx="485.5" cy="505.4" r="4.4" fill="#00ff00"/>
<circle cx="479.5" cy="509.2" r="4.4" fill="#00ff00"/>
<circle cx="481" cy="517.4" r="4.4" fill="#00ff00"/>
<circle cx="448" cy="509.2" r="4.4" fill="#00ff00"/>
<circle cx="458.5" cy="508.4" r="4.4" fill="#00ff00"/>
<circle cx="466" cy="506.2" r="4.4" fill="#00ff00"/>
<circle cx="459.2" cy="516.7" r="4.4" fill="#00ff00"/>
<circle cx="446" cy="480" r="4.4" fill="#00ff00"/>
<circle cx="450" cy="478" r="4.4" fill="#00ff00"/>
<circle cx="448" cy="490" r="4.4" fill="#00ff00"/>
<circle cx="452" cy="492" r="4.4" fill="#00ff00"/>
<circle cx="444" cy="484" r="4.4" fill="#00ff00"/>
<circle cx="455" cy="488" r="4.4" fill="#00ff00"/>
<circle cx="449" cy="500" r="4.4" fill="#00ff00"/>
<polygon points="118,561.7 122.2,567.3 118,572.9 113.8,567.3" fill="none" stroke="#ff3030" stroke-width="1"/>
<polygon points="126,574.9 130.2,580.5 126,586.1 121.8,580.5" fill="none" stroke="#ff3030" stroke-width="1"/>
<polygon points="130.4,581.1 134.6,586.7 130.4,592.3 126.2,586.7" fill="none" stroke="#ff3030" stroke-width="1"/>
<polygon points="121.5,582.9 125.7,588.5 121.5,594.1 117.3,588.5" fill="none" stroke="#ff3030" stroke-width="1"/>
<polygon points="130.4,587.3 134.6,592.9 130.4,598.5 126.2,592.9" fill="none" stroke="#ff3030" stroke-width="1"/>
<polygon points="119.8,590.9 124,596.5 119.8,602.1 115.6,596.5" fill="none" stroke="#ff3030" stroke-width="1"/>
<polygon points="126.9,593.5 131.1,599.1 126.9,604.7 122.7,599.1" fill="none" stroke="#ff3030" stroke-width="1"/>
<polygon points="116.2,596.2 120.4,601.8 116.2,607.4 112,601.8" fill="none" stroke="#ff3030" stroke-width="1"/>
<polygon points="126.9,600.6 131.1,606.2 126.9,611.8 122.7,606.2" fill="none" stroke="#ff3030" stroke-width="1"/>
<polygon points="132.2,583.8 136.4,589.4 132.2,595 128,589.4" fill="none" stroke="#ff3030" stroke-width="1"/>
<polygon points="123.3,570.5 127.5,576.1 123.3,581.7 119.1,576.1" fill="none" stroke="#ff3030" stroke-width="1"/>
<polygon points="114,577.4 118.2,583 114,588.6 109.8,583" fill="none" stroke="#ff3030" stroke-width="1"/>
<polygon points="122,577.4 126.2,583 122,588.6 117.8,583" fill="none" stroke="#ff3030" stroke-width="1"/>
<polygon points="128,589.4 132.2,595 128,600.6 123.8,595" fill="none" stroke="#ff3030" stroke-width="1"/>
<polygon points="118,586.4 122.2,592 118,597.6 113.8,592" fill="none" stroke="#ff3030" stroke-width="1"/>
<polygon points="124,597.4 128.2,603 124,608.6 119.8,603" fill="none" stroke="#ff3030" stroke-width="1"/>
<polygon points="130,592.4 134.2,598 130,603.6 125.8,598" fill="none" stroke="#ff3030" stroke-width="1"/>
<polygon points="120,603.4 124.2,609 120,614.6 115.8,609" fill="none" stroke="#ff3030" stroke-width="1"/>
<polygon points="128,606.4 132.2,612 128,617.6 123.8,612" fill="none" stroke="#ff3030" stroke-width="1"/>
<polygon points="115,591.4 119.2,597 115,602.6 110.8,597" fill="none" stroke="#ff3030" stroke-width="1"/>
<rect x="337.1" y="513.4" width="6.2" height="6.2" fill="none" stroke="#4545ff" stroke-width="1"/>
<rect x="342.4" y="528.4" width="6.2" height="6.2" fill="none" stroke="#4545ff" stroke-width="1"/>
<rect x="340.9" y="539.6" width="6.2" height="6.2" fill="none" stroke="#4545ff" stroke-width="1"/>
<rect x="334.9" y="544.9" width="6.2" height="6.2" fill="none" stroke="#4545ff" stroke-width="1"/>
<rect x="337.9" y="552.4" width="6.2" height="6.2" fill="none" stroke="#4545ff" stroke-width="1"/>
<rect x="345.4" y="552.4" width="6.2" height="6.2" fill="none" stroke="#4545ff" stroke-width="1"/>
<rect x="334.1" y="558.4" width="6.2" height="6.2" fill="none" stroke="#4545ff" stroke-width="1"/>
<rect x="356.6" y="560.6" width="6.2" height="6.2" fill="none" stroke="#4545ff" stroke-width="1"/>
<rect x="328.1" y="566.6" width="6.2" height="6.2" fill="none" stroke="#4545ff" stroke-width="1"/>
<rect x="336.4" y="566.6" width="6.2" height="6.2" fill="none" stroke="#4545ff" stroke-width="1"/>
<rect x="344.6" y="568.9" width="6.2" height="6.2" fill="none" stroke="#4545ff" stroke-width="1"/>
<rect x="329.6" y="577.9" width="6.2" height="6.2" fill="none" stroke="#4545ff" stroke-width="1"/>
<rect x="346.1" y="575.6" width="6.2" height="6.2" fill="none" stroke="#4545ff" stroke-width="1"/>
<rect x="347.6" y="580.9" width="6.2" height="6.2" fill="none" stroke="#4545ff" stroke-width="1"/>
<rect x="332.9" y="548.9" width="6.2" height="6.2" fill="none" stroke="#4545ff" stroke-width="1"/>
<rect x="339.9" y="562.9" width="6.2" height="6.2" fill="none" stroke="#4545ff" stroke-width="1"/>
<rect x="348.9" y="570.9" width="6.2" height="6.2" fill="none" stroke="#4545ff" stroke-width="1"/>
<rect x="331.9" y="571.9" width="6.2" height="6.2" fill="none" stroke="#4545ff" stroke-width="1"/>
<rect x="342.9" y="576.9" width="6.2" height="6.2" fill="none" stroke="#4545ff" stroke-width="1"/>
<rect x="340.9" y="584.9" width="6.2" height="6.2" fill="none" stroke="#4545ff" stroke-width="1"/>
<text x="492" y="635.2" font-size="38" text-anchor="start" fill="#000" stroke="#000" stroke-width="0.3" font-weight="bold" >(c)</text>
<rect x="650.9" y="395.1" width="468" height="259.7" fill="none" stroke="#262626" stroke-width="1.7"/>
<path d="M764.2,654.8v-6.0M764.2,395.1v6.0M881,654.8v-6.0M881,395.1v6.0M997.8,654.8v-6.0M997.8,395.1v6.0M1114.5,654.8v-6.0M1114.5,395.1v6.0M650.9,606.5h6.0M1118.9,606.5h-6.0M650.9,544.1h6.0M1118.9,544.1h-6.0M650.9,481.7h6.0M1118.9,481.7h-6.0M650.9,419.3h6.0M1118.9,419.3h-6.0" stroke="#262626" stroke-width="1.7" fill="none"/>
<text transform="translate(764.2,692) scale(0.963,1.04)" font-size="26" text-anchor="middle" fill="#262626" stroke="#262626" stroke-width="0.3" font-weight="normal" >3.5</text>
<text transform="translate(881,692) scale(0.963,1.04)" font-size="26" text-anchor="middle" fill="#262626" stroke="#262626" stroke-width="0.3" font-weight="normal" >4</text>
<text transform="translate(997.8,692) scale(0.963,1.04)" font-size="26" text-anchor="middle" fill="#262626" stroke="#262626" stroke-width="0.3" font-weight="normal" >4.5</text>
<text transform="translate(1114.5,692) scale(0.963,1.04)" font-size="26" text-anchor="middle" fill="#262626" stroke="#262626" stroke-width="0.3" font-weight="normal" >5</text>
<text transform="translate(640,616.1) scale(0.963,1.04)" font-size="26" text-anchor="end" fill="#262626" stroke="#262626" stroke-width="0.3" font-weight="normal" >0.1</text>
<text transform="translate(640,553.7) scale(0.963,1.04)" font-size="26" text-anchor="end" fill="#262626" stroke="#262626" stroke-width="0.3" font-weight="normal" >0.2</text>
<text transform="translate(640,491.3) scale(0.963,1.04)" font-size="26" text-anchor="end" fill="#262626" stroke="#262626" stroke-width="0.3" font-weight="normal" >0.3</text>
<text transform="translate(640,428.9) scale(0.963,1.04)" font-size="26" text-anchor="end" fill="#262626" stroke="#262626" stroke-width="0.3" font-weight="normal" >0.4</text>
<text transform="translate(884.8,729.3) scale(0.967,1.03)" font-size="28.5" text-anchor="middle" fill="#262626" stroke="#262626" stroke-width="0.3" font-weight="normal" >mode 1: Mean</text>
<text transform="translate(596.5,524.7) scale(0.97,1.043) rotate(-90)" font-size="28.5" text-anchor="middle" fill="#262626" stroke="#262626" stroke-width="0.3" dy="0.0">mode 1: STD</text>
<polygon points="997.5,427.7 1001.7,433.3 997.5,438.9 993.3,433.3" fill="#ff0000"/>
<polygon points="978.1,433.8 982.3,439.4 978.1,445 973.9,439.4" fill="#ff0000"/>
<polygon points="986.2,436.9 990.4,442.5 986.2,448.1 982,442.5" fill="#ff0000"/>
<polygon points="986.2,444.1 990.4,449.7 986.2,455.3 982,449.7" fill="#ff0000"/>
<polygon points="995.4,441 999.6,446.6 995.4,452.2 991.2,446.6" fill="#ff0000"/>
<polygon points="995.4,450.2 999.6,455.8 995.4,461.4 991.2,455.8" fill="#ff0000"/>
<polygon points="993.4,454.3 997.6,459.9 993.4,465.5 989.2,459.9" fill="#ff0000"/>
<polygon points="998.5,458.4 1002.7,464 998.5,469.6 994.3,464" fill="#ff0000"/>
<polygon points="972.9,460.4 977.1,466 972.9,471.6 968.7,466" fill="#ff0000"/>
<polygon points="984.2,458.4 988.4,464 984.2,469.6 980,464" fill="#ff0000"/>
<polygon points="978.1,464.5 982.3,470.1 978.1,475.7 973.9,470.1" fill="#ff0000"/>
<polygon points="959.7,468.6 963.9,474.2 959.7,479.8 955.5,474.2" fill="#ff0000"/>
<polygon points="965.8,468.6 970,474.2 965.8,479.8 961.6,474.2" fill="#ff0000"/>
<polygon points="985.2,471.7 989.4,477.3 985.2,482.9 981,477.3" fill="#ff0000"/>
<polygon points="995.4,470.6 999.6,476.2 995.4,481.8 991.2,476.2" fill="#ff0000"/>
<polygon points="970.9,474.7 975.1,480.3 970.9,485.9 966.7,480.3" fill="#ff0000"/>
<polygon points="974,478.8 978.2,484.4 974,490 969.8,484.4" fill="#ff0000"/>
<polygon points="991.3,477.8 995.5,483.4 991.3,489 987.1,483.4" fill="#ff0000"/>
<polygon points="993.4,482.9 997.6,488.5 993.4,494.1 989.2,488.5" fill="#ff0000"/>
<polygon points="946,479.8 950.2,485.4 946,491 941.8,485.4" fill="#ff0000"/>
<polygon points="958.6,491.1 962.8,496.7 958.6,502.3 954.4,496.7" fill="#ff0000"/>
<polygon points="976,491.1 980.2,496.7 976,502.3 971.8,496.7" fill="#ff0000"/>
<polygon points="955.6,499.3 959.8,504.9 955.6,510.5 951.4,504.9" fill="#ff0000"/>
<polygon points="960.7,513.6 964.9,519.2 960.7,524.8 956.5,519.2" fill="#ff0000"/>
<polygon points="1013.8,492.1 1018,497.7 1013.8,503.3 1009.6,497.7" fill="#ff0000"/>
<polygon points="981.1,498.2 985.3,503.8 981.1,509.4 976.9,503.8" fill="#ff0000"/>
<polygon points="985,449.4 989.2,455 985,460.6 980.8,455" fill="#ff0000"/>
<polygon points="990,464.4 994.2,470 990,475.6 985.8,470" fill="#ff0000"/>
<polygon points="980,449.4 984.2,455 980,460.6 975.8,455" fill="#ff0000"/>
<polygon points="1000,464.4 1004.2,470 1000,475.6 995.8,470" fill="#ff0000"/>
<circle cx="740.7" cy="523.2" r="4.4" fill="#00ff00"/>
<circle cx="751.2" cy="521" r="4.4" fill="#00ff00"/>
<circle cx="758" cy="530.7" r="4.4" fill="#00ff00"/>
<circle cx="744.5" cy="530" r="4.4" fill="#00ff00"/>
<circle cx="734" cy="536.7" r="4.4" fill="#00ff00"/>
<circle cx="740" cy="537.5" r="4.4" fill="#00ff00"/>
<circle cx="747.5" cy="534.5" r="4.4" fill="#00ff00"/>
<circle cx="738.5" cy="543.5" r="4.4" fill="#00ff00"/>
<circle cx="755" cy="546.5" r="4.4" fill="#00ff00"/>
<circle cx="737" cy="551" r="4.4" fill="#00ff00"/>
<circle cx="744.5" cy="551" r="4.4" fill="#00ff00"/>
<circle cx="758" cy="552.5" r="4.4" fill="#00ff00"/>
<circle cx="758.7" cy="560" r="4.4" fill="#00ff00"/>
<circle cx="729.5" cy="560.7" r="4.4" fill="#00ff00"/>
<circle cx="742.2" cy="560" r="4.4" fill="#00ff00"/>
<circle cx="749" cy="561.5" r="4.4" fill="#00ff00"/>
<circle cx="757.2" cy="569" r="4.4" fill="#00ff00"/>
<circle cx="762.5" cy="578.7" r="4.4" fill="#00ff00"/>
<circle cx="751.2" cy="578.7" r="4.4" fill="#00ff00"/>
<circle cx="753" cy="528" r="4.4" fill="#00ff00"/>
<circle cx="745" cy="545" r="4.4" fill="#00ff00"/>
<circle cx="752" cy="540" r="4.4" fill="#00ff00"/>
<circle cx="747" cy="556" r="4.4" fill="#00ff00"/>
<circle cx="736" cy="545" r="4.4" fill="#00ff00"/>
<circle cx="755" cy="560" r="4.4" fill="#00ff00"/>
<circle cx="744" cy="567" r="4.4" fill="#00ff00"/>
<circle cx="750" cy="570" r="4.4" fill="#00ff00"/>
<circle cx="758" cy="540" r="4.4" fill="#00ff00"/>
<circle cx="733" cy="552" r="4.4" fill="#00ff00"/>
<circle cx="740" cy="530" r="4.4" fill="#00ff00"/>
<rect x="759.4" y="416.1" width="6.2" height="6.2" fill="#0000ff"/>
<rect x="750.8" y="455.1" width="6.2" height="6.2" fill="#0000ff"/>
<rect x="758.6" y="471.9" width="6.2" height="6.2" fill="#0000ff"/>
<rect x="744.4" y="474.1" width="6.2" height="6.2" fill="#0000ff"/>
<rect x="745.1" y="478.6" width="6.2" height="6.2" fill="#0000ff"/>
<rect x="754.1" y="476.3" width="6.2" height="6.2" fill="#0000ff"/>
<rect x="760.1" y="482.3" width="6.2" height="6.2" fill="#0000ff"/>
<rect x="761.6" y="488.3" width="6.2" height="6.2" fill="#0000ff"/>
<rect x="749.6" y="485.3" width="6.2" height="6.2" fill="#0000ff"/>
<rect x="778.9" y="472.6" width="6.2" height="6.2" fill="#0000ff"/>
<rect x="734.6" y="492.9" width="6.2" height="6.2" fill="#0000ff"/>
<rect x="739.9" y="494.3" width="6.2" height="6.2" fill="#0000ff"/>
<rect x="747.4" y="504.9" width="6.2" height="6.2" fill="#0000ff"/>
<rect x="747.4" y="509.6" width="6.2" height="6.2" fill="#0000ff"/>
<rect x="733.9" y="509.6" width="6.2" height="6.2" fill="#0000ff"/>
<rect x="724.9" y="516.4" width="6.2" height="6.2" fill="#0000ff"/>
<rect x="738.4" y="514.9" width="6.2" height="6.2" fill="#0000ff"/>
<rect x="775.1" y="523.1" width="6.2" height="6.2" fill="#0000ff"/>
<rect x="764.6" y="533.6" width="6.2" height="6.2" fill="#0000ff"/>
<rect x="753.4" y="535.9" width="6.2" height="6.2" fill="#0000ff"/>
<rect x="744.4" y="540.4" width="6.2" height="6.2" fill="#0000ff"/>
<rect x="748.1" y="552.4" width="6.2" height="6.2" fill="#0000ff"/>
<rect x="726.4" y="570.4" width="6.2" height="6.2" fill="#0000ff"/>
<rect x="736.9" y="562.9" width="6.2" height="6.2" fill="#0000ff"/>
<rect x="742.9" y="567.4" width="6.2" height="6.2" fill="#0000ff"/>
<rect x="745.9" y="571.9" width="6.2" height="6.2" fill="#0000ff"/>
<polygon points="977,502.4 981.2,508 977,513.6 972.8,508" fill="none" stroke="#ff3030" stroke-width="1"/>
<polygon points="983.2,505.4 987.4,511 983.2,516.6 979,511" fill="none" stroke="#ff3030" stroke-width="1"/>
<polygon points="989.3,502.4 993.5,508 989.3,513.6 985.1,508" fill="none" stroke="#ff3030" stroke-width="1"/>
<polygon points="995.4,506.4 999.6,512 995.4,517.6 991.2,512" fill="none" stroke="#ff3030" stroke-width="1"/>
<polygon points="970.9,511.5 975.1,517.1 970.9,522.7 966.7,517.1" fill="none" stroke="#ff3030" stroke-width="1"/>
<polygon points="979,510.4 983.2,516 979,521.6 974.8,516" fill="none" stroke="#ff3030" stroke-width="1"/>
<polygon points="987.3,510.4 991.5,516 987.3,521.6 983.1,516" fill="none" stroke="#ff3030" stroke-width="1"/>
<polygon points="991.3,516.6 995.5,522.2 991.3,527.8 987.1,522.2" fill="none" stroke="#ff3030" stroke-width="1"/>
<polygon points="975,520.7 979.2,526.3 975,531.9 970.8,526.3" fill="none" stroke="#ff3030" stroke-width="1"/>
<polygon points="983.2,520.7 987.4,526.3 983.2,531.9 979,526.3" fill="none" stroke="#ff3030" stroke-width="1"/>
<polygon points="988.3,521.8 992.5,527.4 988.3,533 984.1,527.4" fill="none" stroke="#ff3030" stroke-width="1"/>
<polygon points="979,526.9 983.2,532.5 979,538.1 974.8,532.5" fill="none" stroke="#ff3030" stroke-width="1"/>
<polygon points="975,535.1 979.2,540.7 975,546.3 970.8,540.7" fill="none" stroke="#ff3030" stroke-width="1"/>
<polygon points="987.3,531 991.5,536.6 987.3,542.2 983.1,536.6" fill="none" stroke="#ff3030" stroke-width="1"/>
<polygon points="1005.7,525.9 1009.9,531.5 1005.7,537.1 1001.5,531.5" fill="none" stroke="#ff3030" stroke-width="1"/>
<polygon points="966.8,533 971,538.6 966.8,544.2 962.6,538.6" fill="none" stroke="#ff3030" stroke-width="1"/>
<polygon points="962.7,541.2 966.9,546.8 962.7,552.4 958.5,546.8" fill="none" stroke="#ff3030" stroke-width="1"/>
<polygon points="998.5,547.3 1002.7,552.9 998.5,558.5 994.3,552.9" fill="none" stroke="#ff3030" stroke-width="1"/>
<polygon points="994.4,553.5 998.6,559.1 994.4,564.7 990.2,559.1" fill="none" stroke="#ff3030" stroke-width="1"/>
<polygon points="973,506.4 977.2,512 973,517.6 968.8,512" fill="none" stroke="#ff3030" stroke-width="1"/>
<polygon points="985,513.4 989.2,519 985,524.6 980.8,519" fill="none" stroke="#ff3030" stroke-width="1"/>
<polygon points="993,524.4 997.2,530 993,535.6 988.8,530" fill="none" stroke="#ff3030" stroke-width="1"/>
<polygon points="980,534.4 984.2,540 980,545.6 975.8,540" fill="none" stroke="#ff3030" stroke-width="1"/>
<polygon points="970,526.4 974.2,532 970,537.6 965.8,532" fill="none" stroke="#ff3030" stroke-width="1"/>
<polygon points="990,509.4 994.2,515 990,520.6 985.8,515" fill="none" stroke="#ff3030" stroke-width="1"/>
<polygon points="978,516.4 982.2,522 978,527.6 973.8,522" fill="none" stroke="#ff3030" stroke-width="1"/>
<polygon points="985,527.4 989.2,533 985,538.6 980.8,533" fill="none" stroke="#ff3030" stroke-width="1"/>
<polygon points="996,514.4 1000.2,520 996,525.6 991.8,520" fill="none" stroke="#ff3030" stroke-width="1"/>
<polygon points="1000,519.4 1004.2,525 1000,530.6 995.8,525" fill="none" stroke="#ff3030" stroke-width="1"/>
<polygon points="982,499.4 986.2,505 982,510.6 977.8,505" fill="none" stroke="#ff3030" stroke-width="1"/>
<rect x="732.4" y="562.9" width="6.2" height="6.2" fill="none" stroke="#4545ff" stroke-width="1"/>
<rect x="732.4" y="567.4" width="6.2" height="6.2" fill="none" stroke="#4545ff" stroke-width="1"/>
<rect x="736.9" y="571.9" width="6.2" height="6.2" fill="none" stroke="#4545ff" stroke-width="1"/>
<rect x="730.9" y="578.6" width="6.2" height="6.2" fill="none" stroke="#4545ff" stroke-width="1"/>
<rect x="732.4" y="582.4" width="6.2" height="6.2" fill="none" stroke="#4545ff" stroke-width="1"/>
<rect x="739.9" y="577.9" width="6.2" height="6.2" fill="none" stroke="#4545ff" stroke-width="1"/>
<rect x="747.4" y="583.1" width="6.2" height="6.2" fill="none" stroke="#4545ff" stroke-width="1"/>
<rect x="746.6" y="590.6" width="6.2" height="6.2" fill="none" stroke="#4545ff" stroke-width="1"/>
<rect x="738.4" y="596.6" width="6.2" height="6.2" fill="none" stroke="#4545ff" stroke-width="1"/>
<rect x="738.4" y="600.3" width="6.2" height="6.2" fill="none" stroke="#4545ff" stroke-width="1"/>
<rect x="739.9" y="604.9" width="6.2" height="6.2" fill="none" stroke="#4545ff" stroke-width="1"/>
<rect x="738.4" y="607.5" width="6.2" height="6.2" fill="none" stroke="#4545ff" stroke-width="1"/>
<rect x="739.8" y="610.3" width="6.2" height="6.2" fill="none" stroke="#4545ff" stroke-width="1"/>
<rect x="744.6" y="609.4" width="6.2" height="6.2" fill="none" stroke="#4545ff" stroke-width="1"/>
<rect x="737.4" y="611.8" width="6.2" height="6.2" fill="none" stroke="#4545ff" stroke-width="1"/>
<rect x="747.4" y="590.3" width="6.2" height="6.2" fill="none" stroke="#4545ff" stroke-width="1"/>
<rect x="747.4" y="585.5" width="6.2" height="6.2" fill="none" stroke="#4545ff" stroke-width="1"/>
<rect x="730.3" y="579.9" width="6.2" height="6.2" fill="none" stroke="#4545ff" stroke-width="1"/>
<rect x="731.2" y="583.6" width="6.2" height="6.2" fill="none" stroke="#4545ff" stroke-width="1"/>
<rect x="740.8" y="578.9" width="6.2" height="6.2" fill="none" stroke="#4545ff" stroke-width="1"/>
<rect x="732.2" y="566.4" width="6.2" height="6.2" fill="none" stroke="#4545ff" stroke-width="1"/>
<text x="1066.5" y="636" font-size="38" text-anchor="start" fill="#000" stroke="#000" stroke-width="0.3" font-weight="bold" >(d)</text>
<path d="M1238.7,37.7V342.7H1596.5M1238.7,281.7h5M1238.7,220.7h5M1238.7,159.7h5M1238.7,98.7h5M1238.7,37.7h5M1255.3,342.7v-5M1289.4,342.7v-5M1323.5,342.7v-5M1357.7,342.7v-5M1391.8,342.7v-5M1425.9,342.7v-5M1460,342.7v-5M1494.1,342.7v-5M1528.3,342.7v-5M1562.4,342.7v-5M1596.5,342.7v-5" stroke="#000" stroke-width="2" fill="none"/>
<text x="1228.4" y="353.1" font-size="24.3" text-anchor="end" fill="#000" stroke="#000" stroke-width="0.3" font-weight="normal" >0</text>
<text x="1228.4" y="292.1" font-size="24.3" text-anchor="end" fill="#000" stroke="#000" stroke-width="0.3" font-weight="normal" >20</text>
<text x="1228.4" y="231.1" font-size="24.3" text-anchor="end" fill="#000" stroke="#000" stroke-width="0.3" font-weight="normal" >40</text>
<text x="1228.4" y="170.1" font-size="24.3" text-anchor="end" fill="#000" stroke="#000" stroke-width="0.3" font-weight="normal" >60</text>
<text x="1228.4" y="109.1" font-size="24.3" text-anchor="end" fill="#000" stroke="#000" stroke-width="0.3" font-weight="normal" >80</text>
<text x="1228.4" y="48.1" font-size="24.3" text-anchor="end" fill="#000" stroke="#000" stroke-width="0.3" font-weight="normal" >100</text>
<polyline points="1255.3,76.2 1272.4,79.2 1289.4,75.3 1306.5,72.7 1323.5,75.3 1340.6,82.7 1357.7,83.2 1374.7,93.6 1391.8,96.2 1408.8,94.9 1425.9,93.4 1443,91 1460,105.2 1477.1,131.3 1494.1,145.4 1511.2,181.4 1528.3,206.8 1545.3,254.6 1562.4,266.8 1579.4,255.8 1596.5,284" fill="none" stroke="#ff0000" stroke-width="2" stroke-linejoin="round"/>
<polyline points="1255.3,50 1272.4,50 1289.4,54 1306.5,52.7 1323.5,54.4 1340.6,53.1 1357.7,54 1374.7,54 1391.8,56.1 1408.8,60.5 1425.9,59.4 1443,62.2 1460,69.2 1477.1,68.3 1494.1,72.5 1511.2,89.8 1528.3,124.1 1545.3,178.1 1562.4,252.1 1579.4,268 1596.5,297.5" fill="none" stroke="#0000ff" stroke-width="2" stroke-linejoin="round"/>
<polyline points="1255.3,43.5 1272.4,43.5 1289.4,43.1 1306.5,44.8 1323.5,43.9 1340.6,45.3 1357.7,44.4 1374.7,44.4 1391.8,44.8 1408.8,45.7 1425.9,46.1 1443,47.9 1460,49.2 1477.1,51.1 1494.1,50.5 1511.2,50.7 1528.3,55.1 1545.3,61.2 1562.4,80.2 1579.4,85.8 1596.5,112.7" fill="none" stroke="#00ff00" stroke-width="2" stroke-linejoin="round"/>
<polyline points="1255.3,329.9 1272.4,327.3 1289.4,320.7 1306.5,318.1 1323.5,315.3 1340.6,305.5 1357.7,307.7 1374.7,299 1391.8,292 1408.8,292 1425.9,292.4 1443,293.8 1460,277.8 1477.1,253.3 1494.1,241.1 1511.2,217.8 1528.3,201.9 1545.3,175.6 1562.4,176.8 1579.4,179.7 1596.5,183" fill="none" stroke="#ff0000" stroke-width="2" stroke-linejoin="round" stroke-dasharray="7.5 4.5"/>
<polyline points="1255.3,332.7 1272.4,332.7 1289.4,329 1306.5,329.5 1323.5,328.4 1340.6,329 1357.7,327.7 1374.7,327.7 1391.8,325.1 1408.8,321.8 1425.9,323.4 1443,319.5 1460,312.6 1477.1,314.1 1494.1,308.5 1511.2,296.2 1528.3,265.6 1545.3,200 1562.4,133.1 1579.4,124.1 1596.5,115.1" fill="none" stroke="#0000ff" stroke-width="2" stroke-linejoin="round" stroke-dasharray="7.5 4.5"/>
<polyline points="1255.3,338.8 1272.4,338.2 1289.4,339.5 1306.5,337.7 1323.5,338.2 1340.6,337.1 1357.7,337.7 1374.7,337.1 1391.8,336.4 1408.8,335.6 1425.9,334.6 1443,333.7 1460,332.3 1477.1,330.8 1494.1,331.3 1511.2,330.8 1528.3,326.9 1545.3,317 1562.4,302.4 1579.4,296.2 1596.5,273" fill="none" stroke="#00ff00" stroke-width="2" stroke-linejoin="round" stroke-dasharray="7.5 4.5"/>
<text x="1259.5" y="301" font-size="38" text-anchor="start" fill="#000" stroke="#000" stroke-width="0.3" font-weight="bold" >(e)</text>
<path d="M1613.2,38.3V342.6H1971.2M1613.2,281.7h5M1613.2,220.9h5M1613.2,160h5M1613.2,99.2h5M1613.2,38.3h5M1630,342.6v-5M1664.1,342.6v-5M1698.2,342.6v-5M1732.4,342.6v-5M1766.5,342.6v-5M1800.6,342.6v-5M1834.7,342.6v-5M1868.8,342.6v-5M1903,342.6v-5M1937.1,342.6v-5M1971.2,342.6v-5" stroke="#000" stroke-width="2" fill="none"/>
<polyline points="1630,79.7 1647.1,76.9 1664.1,74.7 1681.2,82.7 1698.2,80.6 1715.3,88.4 1732.4,87.1 1749.4,85.8 1766.5,95.4 1783.5,100.8 1800.6,103 1817.7,99.3 1834.7,121.1 1851.8,118.3 1868.8,143 1885.9,168 1903,235 1920,262 1937.1,273 1954.1,275 1971.2,273.5" fill="none" stroke="#ff0000" stroke-width="2" stroke-linejoin="round"/>
<polyline points="1630,45.9 1647.1,49.2 1664.1,50.7 1681.2,54 1698.2,53.1 1715.3,52.7 1732.4,52.9 1749.4,55.7 1766.5,56.6 1783.5,60.5 1800.6,61.2 1817.7,62.7 1834.7,65.3 1851.8,69.2 1868.8,74.7 1885.9,78.4 1903,118 1920,184.7 1937.1,255.8 1954.1,292.6 1971.2,285.3" fill="none" stroke="#0000ff" stroke-width="2" stroke-linejoin="round"/>
<polyline points="1630,43.1 1647.1,43.1 1664.1,43.5 1681.2,43.5 1698.2,43.9 1715.3,44.8 1732.4,43.9 1749.4,43.9 1766.5,45.3 1783.5,45.3 1800.6,45.7 1817.7,47.9 1834.7,49.2 1851.8,49.6 1868.8,50.7 1885.9,50.3 1903,56.2 1920,61.6 1937.1,67.1 1954.1,84.5 1971.2,129.2" fill="none" stroke="#00ff00" stroke-width="2" stroke-linejoin="round"/>
<polyline points="1630,326.8 1647.1,326.2 1664.1,317.5 1681.2,313.1 1698.2,308.8 1715.3,305.5 1732.4,301.1 1749.4,300 1766.5,296.3 1783.5,292.4 1800.6,283.5 1817.7,284.8 1834.7,280.4 1851.8,266.9 1868.8,243.6 1885.9,216.6 1903,173 1920,170 1937.1,168 1954.1,189 1971.2,189.5" fill="none" stroke="#ff0000" stroke-width="2" stroke-linejoin="round" stroke-dasharray="7.5 4.5"/>
<polyline points="1630,336 1647.1,333.4 1664.1,332.1 1681.2,327.7 1698.2,328.4 1715.3,329 1732.4,328.4 1749.4,326.2 1766.5,325.1 1783.5,321.2 1800.6,320.4 1817.7,318.4 1834.7,316.7 1851.8,312.3 1868.8,307.4 1885.9,303.7 1903,255 1920,194.5 1937.1,128 1954.1,111.7 1971.2,118" fill="none" stroke="#0000ff" stroke-width="2" stroke-linejoin="round" stroke-dasharray="7.5 4.5"/>
<polyline points="1630,338.6 1647.1,339.3 1664.1,338.8 1681.2,338.6 1698.2,338.2 1715.3,337.7 1732.4,338.2 1749.4,337.7 1766.5,337.1 1783.5,336.4 1800.6,336 1817.7,333.8 1834.7,332.4 1851.8,332.4 1868.8,331.9 1885.9,331.4 1903,325 1920,318.4 1937.1,313.5 1954.1,295.1 1971.2,257.1" fill="none" stroke="#00ff00" stroke-width="2" stroke-linejoin="round" stroke-dasharray="7.5 4.5"/>
<text x="1630.3" y="300.5" font-size="38" text-anchor="start" fill="#000" stroke="#000" stroke-width="0.3" font-weight="bold" >(f)</text>
<path d="M1238.4,365.3V667.2H1596.5M1238.4,606.8h5M1238.4,546.4h5M1238.4,486.1h5M1238.4,425.7h5M1238.4,365.3h5M1255.3,667.2v-5M1289.4,667.2v-5M1323.5,667.2v-5M1357.7,667.2v-5M1391.8,667.2v-5M1425.9,667.2v-5M1460,667.2v-5M1494.1,667.2v-5M1528.3,667.2v-5M1562.4,667.2v-5M1596.5,667.2v-5" stroke="#000" stroke-width="2" fill="none"/>
<text x="1228.1" y="677.6" font-size="24.3" text-anchor="end" fill="#000" stroke="#000" stroke-width="0.3" font-weight="normal" >0</text>
<text x="1228.1" y="617.2" font-size="24.3" text-anchor="end" fill="#000" stroke="#000" stroke-width="0.3" font-weight="normal" >20</text>
<text x="1228.1" y="556.8" font-size="24.3" text-anchor="end" fill="#000" stroke="#000" stroke-width="0.3" font-weight="normal" >40</text>
<text x="1228.1" y="496.5" font-size="24.3" text-anchor="end" fill="#000" stroke="#000" stroke-width="0.3" font-weight="normal" >60</text>
<text x="1228.1" y="436.1" font-size="24.3" text-anchor="end" fill="#000" stroke="#000" stroke-width="0.3" font-weight="normal" >80</text>
<text x="1228.1" y="375.7" font-size="24.3" text-anchor="end" fill="#000" stroke="#000" stroke-width="0.3" font-weight="normal" >100</text>
<text transform="translate(1264,676.6) rotate(-90)" font-size="24.3" text-anchor="end" fill="#000" stroke="#000" stroke-width="0.3" dy="0.0">10</text>
<text transform="translate(1298.1,676.6) rotate(-90)" font-size="24.3" text-anchor="end" fill="#000" stroke="#000" stroke-width="0.3" dy="0.0">16</text>
<text transform="translate(1332.2,676.6) rotate(-90)" font-size="24.3" text-anchor="end" fill="#000" stroke="#000" stroke-width="0.3" dy="0.0">25</text>
<text transform="translate(1366.4,676.6) rotate(-90)" font-size="24.3" text-anchor="end" fill="#000" stroke="#000" stroke-width="0.3" dy="0.0">40</text>
<text transform="translate(1400.5,676.6) rotate(-90)" font-size="24.3" text-anchor="end" fill="#000" stroke="#000" stroke-width="0.3" dy="0.0">63</text>
<text transform="translate(1434.6,676.6) rotate(-90)" font-size="24.3" text-anchor="end" fill="#000" stroke="#000" stroke-width="0.3" dy="0.0">100</text>
<text transform="translate(1468.7,676.6) rotate(-90)" font-size="24.3" text-anchor="end" fill="#000" stroke="#000" stroke-width="0.3" dy="0.0">158</text>
<text transform="translate(1502.8,676.6) rotate(-90)" font-size="24.3" text-anchor="end" fill="#000" stroke="#000" stroke-width="0.3" dy="0.0">251</text>
<text transform="translate(1537,676.6) rotate(-90)" font-size="24.3" text-anchor="end" fill="#000" stroke="#000" stroke-width="0.3" dy="0.0">398</text>
<text transform="translate(1571.1,676.6) rotate(-90)" font-size="24.3" text-anchor="end" fill="#000" stroke="#000" stroke-width="0.3" dy="0.0">631</text>
<text transform="translate(1605.2,676.6) rotate(-90)" font-size="24.3" text-anchor="end" fill="#000" stroke="#000" stroke-width="0.3" dy="0.0">1000</text>
<polyline points="1255.3,414.9 1272.4,411 1289.4,399.7 1306.5,403 1323.5,396.9 1340.6,411.5 1357.7,404.5 1374.7,399.7 1391.8,397.5 1408.8,401.9 1425.9,405.6 1443,404.5 1460,416.4 1477.1,451.3 1494.1,452.4 1511.2,454.1 1528.3,452.4 1545.3,469.4 1562.4,433.9 1579.4,452.4 1596.5,440.4" fill="none" stroke="#ff0000" stroke-width="2" stroke-linejoin="round"/>
<polyline points="1255.3,376.6 1272.4,386 1289.4,380.5 1306.5,388.8 1323.5,387 1340.6,387 1357.7,390.3 1374.7,391 1391.8,392.9 1408.8,389.9 1425.9,392.5 1443,393.1 1460,396.2 1477.1,401.2 1494.1,408.4 1511.2,403.4 1528.3,421.9 1545.3,450.2 1562.4,474.2 1579.4,486.8 1596.5,458.9" fill="none" stroke="#0000ff" stroke-width="2" stroke-linejoin="round"/>
<polyline points="1255.3,370.7 1272.4,373.5 1289.4,375.1 1306.5,378.8 1323.5,383.8 1340.6,382.7 1357.7,384 1374.7,384.9 1391.8,384.9 1408.8,384.4 1425.9,386.6 1443,385.9 1460,382.7 1477.1,386.6 1494.1,387 1511.2,391.4 1528.3,393.1 1545.3,387.5 1562.4,398.4 1579.4,407.1 1596.5,390.3" fill="none" stroke="#00ff00" stroke-width="2" stroke-linejoin="round"/>
<polyline points="1255.3,661 1272.4,658.3 1289.4,655.6 1306.5,651.6 1323.5,649.3 1340.6,639.9 1357.7,636.3 1374.7,641.5 1391.8,639.2 1408.8,633.1 1425.9,627.7 1443,628.7 1460,612.2 1477.1,593.1 1494.1,581.5 1511.2,580.8 1528.3,581.5 1545.3,564.4 1562.4,599.9 1579.4,586.4 1596.5,593.6" fill="none" stroke="#ff0000" stroke-width="2" stroke-linejoin="round" stroke-dasharray="7.5 4.5"/>
<polyline points="1255.3,658.3 1272.4,654.9 1289.4,652 1306.5,643.7 1323.5,645.3 1340.6,644.4 1357.7,641.5 1374.7,641.5 1391.8,639.2 1408.8,642.1 1425.9,639.9 1443,639.2 1460,635.4 1477.1,630.2 1494.1,623.5 1511.2,628 1528.3,615.6 1545.3,584.2 1562.4,564.4 1579.4,553.8 1596.5,574" fill="none" stroke="#0000ff" stroke-width="2" stroke-linejoin="round" stroke-dasharray="7.5 4.5"/>
<polyline points="1255.3,663.3 1272.4,660.1 1289.4,657.2 1306.5,652.7 1323.5,650.4 1340.6,648.9 1357.7,647.5 1374.7,646.6 1391.8,647.1 1408.8,646.6 1425.9,644.8 1443,645.3 1460,649.3 1477.1,646 1494.1,644.8 1511.2,640.3 1528.3,639.2 1545.3,644.8 1562.4,637 1579.4,625.7 1596.5,643" fill="none" stroke="#00ff00" stroke-width="2" stroke-linejoin="round" stroke-dasharray="7.5 4.5"/>
<text x="1257.5" y="629" font-size="38" text-anchor="start" fill="#000" stroke="#000" stroke-width="0.3" font-weight="bold" >(g)</text>
<path d="M1613,364.8V667.2H1971.2M1613,606.7h5M1613,546.2h5M1613,485.8h5M1613,425.3h5M1613,364.8h5M1630,667.2v-5M1664.1,667.2v-5M1698.2,667.2v-5M1732.4,667.2v-5M1766.5,667.2v-5M1800.6,667.2v-5M1834.7,667.2v-5M1868.8,667.2v-5M1903,667.2v-5M1937.1,667.2v-5M1971.2,667.2v-5" stroke="#000" stroke-width="2" fill="none"/>
<text transform="translate(1638.7,676.6) rotate(-90)" font-size="24.3" text-anchor="end" fill="#000" stroke="#000" stroke-width="0.3" dy="0.0">10</text>
<text transform="translate(1672.8,676.6) rotate(-90)" font-size="24.3" text-anchor="end" fill="#000" stroke="#000" stroke-width="0.3" dy="0.0">16</text>
<text transform="translate(1706.9,676.6) rotate(-90)" font-size="24.3" text-anchor="end" fill="#000" stroke="#000" stroke-width="0.3" dy="0.0">25</text>
<text transform="translate(1741.1,676.6) rotate(-90)" font-size="24.3" text-anchor="end" fill="#000" stroke="#000" stroke-width="0.3" dy="0.0">40</text>
<text transform="translate(1775.2,676.6) rotate(-90)" font-size="24.3" text-anchor="end" fill="#000" stroke="#000" stroke-width="0.3" dy="0.0">63</text>
<text transform="translate(1809.3,676.6) rotate(-90)" font-size="24.3" text-anchor="end" fill="#000" stroke="#000" stroke-width="0.3" dy="0.0">100</text>
<text transform="translate(1843.4,676.6) rotate(-90)" font-size="24.3" text-anchor="end" fill="#000" stroke="#000" stroke-width="0.3" dy="0.0">158</text>
<text transform="translate(1877.5,676.6) rotate(-90)" font-size="24.3" text-anchor="end" fill="#000" stroke="#000" stroke-width="0.3" dy="0.0">251</text>
<text transform="translate(1911.7,676.6) rotate(-90)" font-size="24.3" text-anchor="end" fill="#000" stroke="#000" stroke-width="0.3" dy="0.0">398</text>
<text transform="translate(1945.8,676.6) rotate(-90)" font-size="24.3" text-anchor="end" fill="#000" stroke="#000" stroke-width="0.3" dy="0.0">631</text>
<text transform="translate(1979.9,676.6) rotate(-90)" font-size="24.3" text-anchor="end" fill="#000" stroke="#000" stroke-width="0.3" dy="0.0">1000</text>
<polyline points="1630,405.6 1647.1,395.1 1664.1,398.4 1681.2,388.8 1698.2,389.2 1715.3,388.3 1732.4,394.7 1749.4,386 1766.5,385.5 1783.5,383.8 1800.6,384.6 1817.7,403.4 1834.7,413.6 1851.8,468.8 1868.8,413.2 1885.9,502.4 1903,556 1920,584.6 1937.1,533.4 1954.1,613.2 1971.2,638.2" fill="none" stroke="#ff0000" stroke-width="2" stroke-linejoin="round"/>
<polyline points="1630,373.3 1647.1,374.4 1664.1,374.4 1681.2,372.2 1698.2,370.7 1715.3,371.8 1732.4,372.2 1749.4,371.8 1766.5,371.4 1783.5,370.9 1800.6,370.7 1817.7,370.9 1834.7,370.9 1851.8,370.9 1868.8,375.7 1885.9,370.9 1903,370.7 1920,370.7 1937.1,370.3 1954.1,370.3 1971.2,369.6" fill="none" stroke="#0000ff" stroke-width="2" stroke-linejoin="round"/>
<polyline points="1630,369.6 1647.1,367.4 1664.1,367.4 1681.2,368.5 1698.2,367.9 1715.3,367 1732.4,367.4 1749.4,367.4 1766.5,368.1 1783.5,367.4 1800.6,367.7 1817.7,367.9 1834.7,367.4 1851.8,367.4 1868.8,368.7 1885.9,367.9 1903,367.9 1920,367.4 1937.1,371.8 1954.1,377.2 1971.2,368.5" fill="none" stroke="#00ff00" stroke-width="2" stroke-linejoin="round"/>
<polyline points="1630,645.9 1647.1,645.4 1664.1,643 1681.2,647.1 1698.2,645.9 1715.3,645.9 1732.4,639.5 1749.4,646.6 1766.5,647.8 1783.5,649 1800.6,648 1817.7,629.9 1834.7,620.4 1851.8,566.7 1868.8,619.2 1885.9,528.6 1903,474.2 1920,450.7 1937.1,498.2 1954.1,421.9 1971.2,396.9" fill="none" stroke="#ff0000" stroke-width="2" stroke-linejoin="round" stroke-dasharray="7.5 4.5"/>
<polyline points="1630,659.2 1647.1,657.8 1664.1,657.8 1681.2,660.9 1698.2,660.9 1715.3,660.2 1732.4,660.2 1749.4,660.9 1766.5,660.9 1783.5,661.6 1800.6,660.9 1817.7,660.9 1834.7,660.9 1851.8,660.9 1868.8,656.3 1885.9,661.6 1903,661.6 1920,661.6 1937.1,661.6 1954.1,661.6 1971.2,661.6" fill="none" stroke="#0000ff" stroke-width="2" stroke-linejoin="round" stroke-dasharray="7.5 4.5"/>
<polyline points="1630,663 1647.1,664.5 1664.1,664.5 1681.2,664 1698.2,664.5 1715.3,664.5 1732.4,664.5 1749.4,664.5 1766.5,664.5 1783.5,664.5 1800.6,664.5 1817.7,664.3 1834.7,664.3 1851.8,664.3 1868.8,664.3 1885.9,664.3 1903,664.3 1920,664.3 1937.1,660.2 1954.1,654.9 1971.2,662" fill="none" stroke="#00ff00" stroke-width="2" stroke-linejoin="round" stroke-dasharray="7.5 4.5"/>
<text x="1625" y="627.5" font-size="38" text-anchor="start" fill="#000" stroke="#000" stroke-width="0.3" font-weight="bold" >(h)</text>
<rect x="1255.7" y="115" width="197" height="136" fill="#fff" stroke="#000" stroke-width="1.5"/>
<line x1="1260.7" y1="129.2" x2="1300" y2="129.2" stroke="#ff0000" stroke-width="2"/>
<text x="1303.6" y="136" font-size="17.2" text-anchor="start" fill="#000" stroke="#000" stroke-width="0.3" font-weight="normal" >OPV 4: correct</text>
<line x1="1260.7" y1="151" x2="1300" y2="151" stroke="#0000ff" stroke-width="2"/>
<text x="1303.6" y="157.8" font-size="17.2" text-anchor="start" fill="#000" stroke="#000" stroke-width="0.3" font-weight="normal" >OPV 20: correct</text>
<line x1="1260.7" y1="172.7" x2="1300" y2="172.7" stroke="#00ff00" stroke-width="2"/>
<text x="1303.6" y="179.5" font-size="17.2" text-anchor="start" fill="#000" stroke="#000" stroke-width="0.3" font-weight="normal" >OPV 100: correct</text>
<line x1="1260.7" y1="195.4" x2="1300" y2="195.4" stroke="#ff0000" stroke-width="2" stroke-dasharray="7.5 4.5"/>
<text x="1303.6" y="202.2" font-size="17.2" text-anchor="start" fill="#000" stroke="#000" stroke-width="0.3" font-weight="normal" >OPV 4: incorrect</text>
<line x1="1260.7" y1="217.2" x2="1300" y2="217.2" stroke="#0000ff" stroke-width="2" stroke-dasharray="7.5 4.5"/>
<text x="1303.6" y="224" font-size="17.2" text-anchor="start" fill="#000" stroke="#000" stroke-width="0.3" font-weight="normal" >OPV 20: incorrect</text>
<line x1="1260.7" y1="239" x2="1300" y2="239" stroke="#00ff00" stroke-width="2" stroke-dasharray="7.5 4.5"/>
<text x="1303.6" y="245.8" font-size="17.2" text-anchor="start" fill="#000" stroke="#000" stroke-width="0.3" font-weight="normal" >OPV 100: incorrect</text>
<text x="1417" y="26.3" font-size="35" text-anchor="middle" fill="#000" stroke="#000" stroke-width="0.3" font-weight="normal" >SGN</text>
<text x="1791.6" y="26.3" font-size="35" text-anchor="middle" fill="#000" stroke="#000" stroke-width="0.3" font-weight="normal" >CGN</text>
<text transform="translate(1175.5,190.5) rotate(-90)" font-size="33" text-anchor="middle" fill="#000" stroke="#000" stroke-width="0.3" dy="0.0">large</text>
<text transform="translate(1175.5,517) rotate(-90)" font-size="33" text-anchor="middle" fill="#000" stroke="#000" stroke-width="0.3" dy="0.0">small</text>
</svg></body></html>
